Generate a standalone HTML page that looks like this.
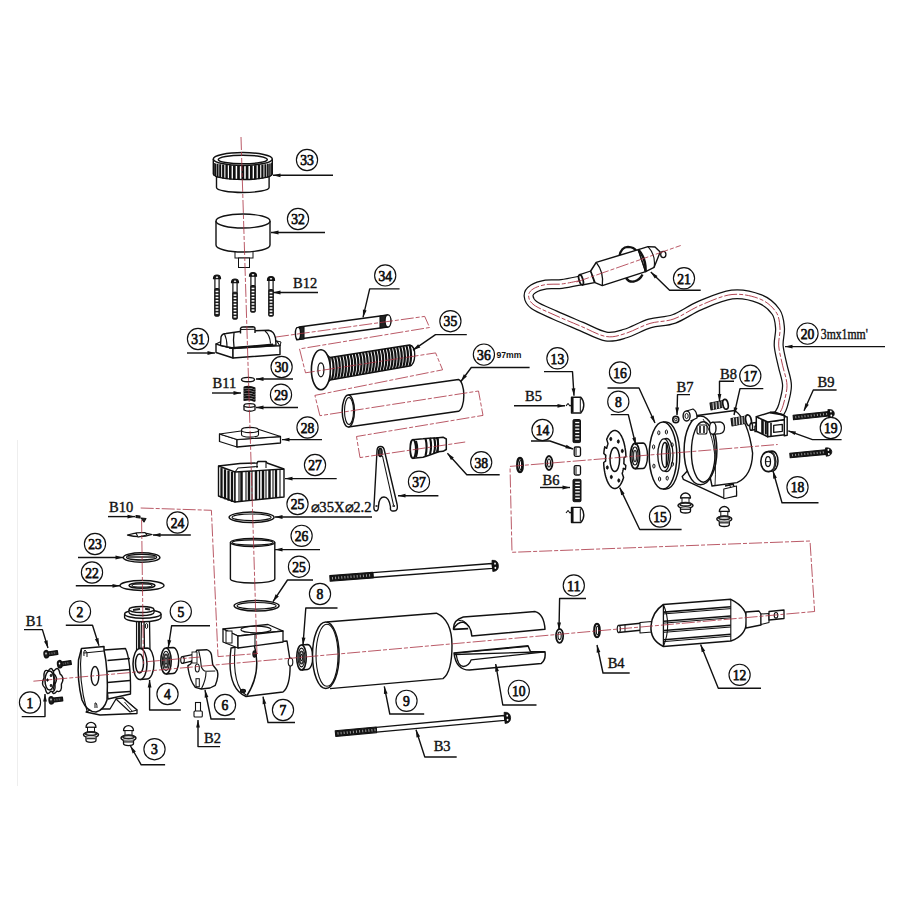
<!DOCTYPE html>
<html><head><meta charset="utf-8"><style>
html,body{margin:0;padding:0;background:#fff;width:902px;height:902px;overflow:hidden}
svg{display:block}
text{font-family:"Liberation Serif",serif;fill:#111}
</style></head><body>
<svg width="902" height="902" viewBox="0 0 902 902">
<rect width="902" height="902" fill="#fff"/>
<line x1="17.5" y1="440" x2="17.5" y2="786" stroke="#eee" stroke-width="1"/>
<path d="M580.5,280.5 C577.4,281.1 567.4,283.3 561.6,284 C555.9,284.7 550.8,283.7 546,284.5 C541.2,285.3 535.9,287.1 533,289 C530.1,290.9 528.4,293.3 528.6,296 C528.8,298.7 529.6,301.8 534,305 C538.4,308.2 547.1,311.6 555,315.2 C562.9,318.8 573,322.9 581.5,326.5 C590,330.1 598.7,335.3 606,336.5 C613.3,337.7 618.1,335.7 625.4,333.5 C632.7,331.3 641.9,325.8 650,323.4 C658.1,321 665.7,321.9 674,318.9 C682.3,315.9 690.3,309.6 700,305.5 C709.7,301.4 722,295.6 732,294.5 C742,293.4 752.7,296.1 760,299 C767.3,301.9 772.7,307.2 776,312 C779.3,316.8 779.5,322.4 780,328 C780.5,333.6 778.2,339.6 778.7,345.9 C779.2,352.2 781.3,359.1 782.7,365.8 C784.1,372.5 787,379.2 787,385.8 C787,392.4 784.3,401 783,405.7 C781.7,410.4 779.7,412.6 779,414" fill="none" stroke="#111" stroke-width="10.1" stroke-linejoin="round" />
<path d="M580.5,280.5 C577.4,281.1 567.4,283.3 561.6,284 C555.9,284.7 550.8,283.7 546,284.5 C541.2,285.3 535.9,287.1 533,289 C530.1,290.9 528.4,293.3 528.6,296 C528.8,298.7 529.6,301.8 534,305 C538.4,308.2 547.1,311.6 555,315.2 C562.9,318.8 573,322.9 581.5,326.5 C590,330.1 598.7,335.3 606,336.5 C613.3,337.7 618.1,335.7 625.4,333.5 C632.7,331.3 641.9,325.8 650,323.4 C658.1,321 665.7,321.9 674,318.9 C682.3,315.9 690.3,309.6 700,305.5 C709.7,301.4 722,295.6 732,294.5 C742,293.4 752.7,296.1 760,299 C767.3,301.9 772.7,307.2 776,312 C779.3,316.8 779.5,322.4 780,328 C780.5,333.6 778.2,339.6 778.7,345.9 C779.2,352.2 781.3,359.1 782.7,365.8 C784.1,372.5 787,379.2 787,385.8 C787,392.4 784.3,401 783,405.7 C781.7,410.4 779.7,412.6 779,414" fill="none" stroke="#fff" stroke-width="7.6" stroke-linejoin="round" />
<path d="M580.5,280.5 C577.4,281.1 567.4,283.3 561.6,284 C555.9,284.7 550.8,283.7 546,284.5 C541.2,285.3 535.9,287.1 533,289 C530.1,290.9 528.4,293.3 528.6,296 C528.8,298.7 529.6,301.8 534,305 C538.4,308.2 547.1,311.6 555,315.2 C562.9,318.8 573,322.9 581.5,326.5 C590,330.1 598.7,335.3 606,336.5 C613.3,337.7 618.1,335.7 625.4,333.5 C632.7,331.3 641.9,325.8 650,323.4 C658.1,321 665.7,321.9 674,318.9 C682.3,315.9 690.3,309.6 700,305.5 C709.7,301.4 722,295.6 732,294.5 C742,293.4 752.7,296.1 760,299 C767.3,301.9 772.7,307.2 776,312 C779.3,316.8 779.5,322.4 780,328 C780.5,333.6 778.2,339.6 778.7,345.9 C779.2,352.2 781.3,359.1 782.7,365.8 C784.1,372.5 787,379.2 787,385.8 C787,392.4 784.3,401 783,405.7 C781.7,410.4 779.7,412.6 779,414" fill="none" stroke="#a83040" stroke-width="0.9" stroke-dasharray="13 2 4 2"/>
<path d="M619.5,256 Q621,247 628,246.8 Q634,247 636.5,251" fill="none" stroke="#111" stroke-width="2.3" stroke-linejoin="round" />
<path d="M626,278 Q629,282.5 634,281.5 Q640,280 642.5,274.5" fill="none" stroke="#111" stroke-width="2.3" stroke-linejoin="round" />
<polygon points="579.8,274.6 590.7,271 594.4,282.6 582.2,285" fill="#fff" stroke="#111" stroke-width="1.3" stroke-linejoin="round" />
<ellipse cx="581" cy="279.8" rx="1.9" ry="5.2" fill="#fff" stroke="#111" stroke-width="1.8" transform="rotate(-16 581 279.8)" />
<polygon points="590.7,271 596.2,262.4 638.3,249.6 645.6,271.6 602.3,285.6 595,282.6" fill="#fff" stroke="#111" stroke-width="1.5" stroke-linejoin="round" />
<path d="M596.2,262.4 Q604,272 602.3,285.6" fill="none" stroke="#111" stroke-width="1.3" stroke-linejoin="round" />
<polygon points="638.3,249.6 648,246.6 655,247 660.2,252 654.1,267.3 645.6,271.6" fill="#fff" stroke="#111" stroke-width="1.4" stroke-linejoin="round" />
<path d="M638.3,249.6 Q646,258 645.6,271.6" fill="none" stroke="#111" stroke-width="2.5" stroke-linejoin="round" />
<path d="M648,246.6 Q656,255 654.1,267.3" fill="none" stroke="#111" stroke-width="1.1" stroke-linejoin="round" />
<ellipse cx="663.3" cy="254.5" rx="2.6" ry="3.1" fill="#fff" stroke="#111" stroke-width="1.3" />
<path d="M216.5,176 L216.5,187.5 A26.3,5 0 0 0 269.1,187.5 L269.1,176" fill="#fff" stroke="#111" stroke-width="1.4" stroke-linejoin="round" />
<path d="M213.3,159 L213.3,174 A29.5,5.5 0 0 0 272.3,174 L272.3,159" fill="#fff" stroke="#111" stroke-width="1.4" stroke-linejoin="round" />
<line x1="213.5" y1="162.4" x2="213.5" y2="175.1" stroke="#111" stroke-width="0.8" />
<line x1="214.3" y1="162.9" x2="214.3" y2="175.9" stroke="#111" stroke-width="1.1" />
<line x1="215.7" y1="163.4" x2="215.7" y2="176.7" stroke="#111" stroke-width="1.4" />
<line x1="217.7" y1="163.8" x2="217.7" y2="177.4" stroke="#111" stroke-width="1.7" />
<line x1="220.2" y1="164.2" x2="220.2" y2="178" stroke="#111" stroke-width="2" />
<line x1="223.2" y1="164.6" x2="223.2" y2="178.6" stroke="#111" stroke-width="2.2" />
<line x1="226.6" y1="164.9" x2="226.6" y2="179.1" stroke="#111" stroke-width="2.4" />
<line x1="230.3" y1="165.2" x2="230.3" y2="179.5" stroke="#111" stroke-width="2.6" />
<line x1="234.3" y1="165.4" x2="234.3" y2="179.8" stroke="#111" stroke-width="2.7" />
<line x1="238.5" y1="165.5" x2="238.5" y2="179.9" stroke="#111" stroke-width="2.7" />
<line x1="242.8" y1="165.5" x2="242.8" y2="180" stroke="#111" stroke-width="2.8" />
<line x1="247.1" y1="165.5" x2="247.1" y2="179.9" stroke="#111" stroke-width="2.7" />
<line x1="251.3" y1="165.4" x2="251.3" y2="179.8" stroke="#111" stroke-width="2.7" />
<line x1="255.3" y1="165.2" x2="255.3" y2="179.5" stroke="#111" stroke-width="2.6" />
<line x1="259" y1="164.9" x2="259" y2="179.1" stroke="#111" stroke-width="2.4" />
<line x1="262.4" y1="164.6" x2="262.4" y2="178.6" stroke="#111" stroke-width="2.2" />
<line x1="265.4" y1="164.2" x2="265.4" y2="178" stroke="#111" stroke-width="2" />
<line x1="267.9" y1="163.8" x2="267.9" y2="177.4" stroke="#111" stroke-width="1.7" />
<line x1="269.9" y1="163.4" x2="269.9" y2="176.7" stroke="#111" stroke-width="1.4" />
<line x1="271.3" y1="162.9" x2="271.3" y2="175.9" stroke="#111" stroke-width="1.1" />
<line x1="272.1" y1="162.4" x2="272.1" y2="175.1" stroke="#111" stroke-width="0.8" />
<ellipse cx="242.8" cy="159" rx="29.5" ry="6.5" fill="#fff" stroke="#111" stroke-width="1.5" />
<ellipse cx="242.8" cy="159.5" rx="24.5" ry="4.3" fill="none" stroke="#111" stroke-width="1.5" />
<rect x="235" y="249" width="18" height="9" fill="#fff" stroke="#111" stroke-width="1"/>
<rect x="238.5" y="258" width="11" height="9.5" fill="#fff" stroke="#111" stroke-width="1"/>
<path d="M216,221 L216,245 A27,7 0 0 0 270,245 L270,221" fill="#fff" stroke="#111" stroke-width="1.4" stroke-linejoin="round" />
<ellipse cx="243" cy="221" rx="27" ry="7" fill="#fff" stroke="#111" stroke-width="1.4" />
<rect x="214.9" y="278" width="4.2" height="38" rx="1" fill="#fff" stroke="#111" stroke-width="1.2"/>
<rect x="214.9" y="288.5" width="4.2" height="27.5" rx="1" fill="#222" stroke="#111" stroke-width="1"/>
<rect x="215.6" y="290.7" width="2.8" height="1.5" fill="#fff"/>
<rect x="215.6" y="293.8" width="2.8" height="1.5" fill="#fff"/>
<rect x="215.6" y="296.9" width="2.8" height="1.5" fill="#fff"/>
<rect x="215.6" y="300" width="2.8" height="1.5" fill="#fff"/>
<rect x="215.6" y="303.1" width="2.8" height="1.5" fill="#fff"/>
<rect x="215.6" y="306.2" width="2.8" height="1.5" fill="#fff"/>
<rect x="215.6" y="309.3" width="2.8" height="1.5" fill="#fff"/>
<rect x="215.6" y="312.4" width="2.8" height="1.5" fill="#fff"/>
<path d="M213.4,278.8 Q213.4,275 217,275 Q220.6,275 220.6,278.8 Z" fill="#111" stroke="#111" stroke-width="1.1" stroke-linejoin="round" />
<ellipse cx="217" cy="277.2" rx="1.2" ry="0.8" fill="#fff" stroke="#fff" stroke-width="0.1" />
<rect x="232.9" y="282" width="4.2" height="37" rx="1" fill="#fff" stroke="#111" stroke-width="1.2"/>
<rect x="232.9" y="292.2" width="4.2" height="26.8" rx="1" fill="#222" stroke="#111" stroke-width="1"/>
<rect x="233.6" y="294.4" width="2.8" height="1.5" fill="#fff"/>
<rect x="233.6" y="297.5" width="2.8" height="1.5" fill="#fff"/>
<rect x="233.6" y="300.6" width="2.8" height="1.5" fill="#fff"/>
<rect x="233.6" y="303.7" width="2.8" height="1.5" fill="#fff"/>
<rect x="233.6" y="306.8" width="2.8" height="1.5" fill="#fff"/>
<rect x="233.6" y="309.9" width="2.8" height="1.5" fill="#fff"/>
<rect x="233.6" y="313" width="2.8" height="1.5" fill="#fff"/>
<rect x="233.6" y="316.1" width="2.8" height="1.5" fill="#fff"/>
<path d="M231.4,282.8 Q231.4,279 235,279 Q238.6,279 238.6,282.8 Z" fill="#111" stroke="#111" stroke-width="1.1" stroke-linejoin="round" />
<ellipse cx="235" cy="281.2" rx="1.2" ry="0.8" fill="#fff" stroke="#fff" stroke-width="0.1" />
<rect x="250.9" y="275.5" width="4.2" height="36.5" rx="1" fill="#fff" stroke="#111" stroke-width="1.2"/>
<rect x="250.9" y="285.5" width="4.2" height="26.5" rx="1" fill="#222" stroke="#111" stroke-width="1"/>
<rect x="251.6" y="287.7" width="2.8" height="1.5" fill="#fff"/>
<rect x="251.6" y="290.8" width="2.8" height="1.5" fill="#fff"/>
<rect x="251.6" y="293.9" width="2.8" height="1.5" fill="#fff"/>
<rect x="251.6" y="297" width="2.8" height="1.5" fill="#fff"/>
<rect x="251.6" y="300.1" width="2.8" height="1.5" fill="#fff"/>
<rect x="251.6" y="303.2" width="2.8" height="1.5" fill="#fff"/>
<rect x="251.6" y="306.3" width="2.8" height="1.5" fill="#fff"/>
<rect x="251.6" y="309.4" width="2.8" height="1.5" fill="#fff"/>
<path d="M249.4,276.3 Q249.4,272.5 253,272.5 Q256.6,272.5 256.6,276.3 Z" fill="#111" stroke="#111" stroke-width="1.1" stroke-linejoin="round" />
<ellipse cx="253" cy="274.7" rx="1.2" ry="0.8" fill="#fff" stroke="#fff" stroke-width="0.1" />
<rect x="268.9" y="279.6" width="4.2" height="36.4" rx="1" fill="#fff" stroke="#111" stroke-width="1.2"/>
<rect x="268.9" y="289.6" width="4.2" height="26.4" rx="1" fill="#222" stroke="#111" stroke-width="1"/>
<rect x="269.6" y="291.8" width="2.8" height="1.5" fill="#fff"/>
<rect x="269.6" y="294.9" width="2.8" height="1.5" fill="#fff"/>
<rect x="269.6" y="298" width="2.8" height="1.5" fill="#fff"/>
<rect x="269.6" y="301.1" width="2.8" height="1.5" fill="#fff"/>
<rect x="269.6" y="304.2" width="2.8" height="1.5" fill="#fff"/>
<rect x="269.6" y="307.3" width="2.8" height="1.5" fill="#fff"/>
<rect x="269.6" y="310.4" width="2.8" height="1.5" fill="#fff"/>
<rect x="269.6" y="313.5" width="2.8" height="1.5" fill="#fff"/>
<path d="M267.4,280.4 Q267.4,276.6 271,276.6 Q274.6,276.6 274.6,280.4 Z" fill="#111" stroke="#111" stroke-width="1.1" stroke-linejoin="round" />
<ellipse cx="271" cy="278.8" rx="1.2" ry="0.8" fill="#fff" stroke="#fff" stroke-width="0.1" />
<polygon points="216,344 233,348.5 233,358 216,352.5" fill="#fff" stroke="#111" stroke-width="1.4" stroke-linejoin="round" />
<polygon points="233,348.5 280,345.5 280,354.5 233,358" fill="#fff" stroke="#111" stroke-width="1.4" stroke-linejoin="round" />
<polygon points="216,344 222,341 274,338 280,345.5 233,348.5" fill="#fff" stroke="#111" stroke-width="1.1" stroke-linejoin="round" />
<path d="M220.5,345.5 L221,337 Q222,333.5 226,333.5 L240,331.5 L255,330.8 L268.5,330.3 Q274,331 275.5,338 L276,345 L233,348 Z" fill="#fff" stroke="#111" stroke-width="1.4" stroke-linejoin="round" />
<path d="M234,333 Q233,340 234,347" fill="none" stroke="#111" stroke-width="1.3" stroke-linejoin="round" />
<path d="M265,331 Q270,335 270.5,343.5" fill="none" stroke="#111" stroke-width="1.1" stroke-linejoin="round" />
<path d="M224.5,334 Q227,339 227,346.5" fill="none" stroke="#111" stroke-width="1.1" stroke-linejoin="round" />
<path d="M229,348 L273,344.3" fill="none" stroke="#111" stroke-width="1.5" stroke-linejoin="round" />
<path d="M240.5,333.5 L240.5,328.5 Q241,327 243,327 L253,326.8 Q255,327 255,328.5 L255,333" fill="#fff" stroke="#111" stroke-width="1.4" stroke-linejoin="round" />
<line x1="240.5" y1="329.5" x2="255" y2="329.2" stroke="#111" stroke-width="1.1" />
<polygon points="277,341 281,342 280,346" fill="#fff" stroke="#111" stroke-width="1" stroke-linejoin="round" />
<ellipse cx="248" cy="379.6" rx="6.5" ry="2.2" fill="#fff" stroke="#111" stroke-width="1.4" />
<path d="M244,387.5 Q249.5,386 255,388.5" fill="none" stroke="#111" stroke-width="2.3" stroke-linejoin="round" />
<path d="M244,390 Q249.5,388.5 255,391" fill="none" stroke="#111" stroke-width="2.3" stroke-linejoin="round" />
<path d="M244,392.5 Q249.5,391 255,393.5" fill="none" stroke="#111" stroke-width="2.3" stroke-linejoin="round" />
<path d="M244,395 Q249.5,393.5 255,396" fill="none" stroke="#111" stroke-width="2.3" stroke-linejoin="round" />
<path d="M244,397.5 Q249.5,396 255,398.5" fill="none" stroke="#111" stroke-width="2.3" stroke-linejoin="round" />
<path d="M244,400 Q249.5,398.5 255,401" fill="none" stroke="#111" stroke-width="2.3" stroke-linejoin="round" />
<line x1="244" y1="387" x2="244" y2="401" stroke="#111" stroke-width="0.9" />
<line x1="255" y1="388" x2="255" y2="401.5" stroke="#111" stroke-width="0.9" />
<path d="M244,405.5 L244,410 Q249.5,412.5 255,410 L255,405.5" fill="#fff" stroke="#111" stroke-width="1.3" stroke-linejoin="round" />
<ellipse cx="249.5" cy="405.5" rx="5.5" ry="1.8" fill="#fff" stroke="#111" stroke-width="1.3" />
<polygon points="219.5,434 237,439.5 237,447 219.5,441.5" fill="#fff" stroke="#111" stroke-width="1.3" stroke-linejoin="round" />
<polygon points="237,439.5 280.5,436.5 280.5,443 237,447" fill="#fff" stroke="#111" stroke-width="1.3" stroke-linejoin="round" />
<polygon points="219.5,434 241,431 259,429.5 280.5,436.5 237,439.5" fill="#fff" stroke="#111" stroke-width="1.1" stroke-linejoin="round" />
<path d="M241.5,430 L241.5,434.5 A8.5,2.6 0 0 0 258.5,434.5 L258.5,430" fill="#fff" stroke="#111" stroke-width="1.1" stroke-linejoin="round" />
<ellipse cx="250" cy="430" rx="8.5" ry="2.6" fill="#fff" stroke="#111" stroke-width="1.1" />
<polygon points="218.5,466 235,472 235,502 218.5,496" fill="#fff" stroke="#111" stroke-width="1.4" stroke-linejoin="round" />
<polygon points="235,472 284,469 284,497 235,502" fill="#fff" stroke="#111" stroke-width="1.4" stroke-linejoin="round" />
<polyline points="218.5,466 240,463.5 257,463 258,461.5 266,461.5 267,463 284,469" fill="none" stroke="#111" stroke-width="1.4" stroke-linejoin="round" />
<polyline points="235,472 238,468 258,466.5" fill="none" stroke="#111" stroke-width="1.1" stroke-linejoin="round" />
<polyline points="257,463 257,468" fill="none" stroke="#111" stroke-width="1.1" stroke-linejoin="round" />
<polyline points="266,462 266,468" fill="none" stroke="#111" stroke-width="1.1" stroke-linejoin="round" />
<line x1="221.5" y1="468.1" x2="221.5" y2="498.1" stroke="#111" stroke-width="2.3" />
<line x1="225" y1="469.3" x2="225" y2="499.3" stroke="#111" stroke-width="2.3" />
<line x1="228.5" y1="470.6" x2="228.5" y2="500.6" stroke="#111" stroke-width="2.3" />
<line x1="232" y1="471.9" x2="232" y2="501.9" stroke="#111" stroke-width="2.3" />
<line x1="239" y1="471.8" x2="239" y2="501.6" stroke="#111" stroke-width="1.1" />
<line x1="241.5" y1="471.6" x2="241.5" y2="501.3" stroke="#111" stroke-width="2.5" />
<line x1="246" y1="471.3" x2="246" y2="500.9" stroke="#111" stroke-width="1.1" />
<line x1="249" y1="471.1" x2="249" y2="500.6" stroke="#111" stroke-width="2.5" />
<line x1="252" y1="471" x2="252" y2="500.3" stroke="#111" stroke-width="1.1" />
<line x1="256" y1="470.7" x2="256" y2="499.9" stroke="#111" stroke-width="2.5" />
<line x1="259.5" y1="470.5" x2="259.5" y2="499.5" stroke="#111" stroke-width="1.4" />
<line x1="263" y1="470.3" x2="263" y2="499.1" stroke="#111" stroke-width="2.5" />
<line x1="266" y1="470.1" x2="266" y2="498.8" stroke="#111" stroke-width="1.1" />
<line x1="269.5" y1="469.9" x2="269.5" y2="498.5" stroke="#111" stroke-width="2.5" />
<line x1="273" y1="469.7" x2="273" y2="498.1" stroke="#111" stroke-width="1.1" />
<line x1="276" y1="469.5" x2="276" y2="497.8" stroke="#111" stroke-width="2.3" />
<line x1="280" y1="469.3" x2="280" y2="497.4" stroke="#111" stroke-width="1.1" />
<path d="M136,515.5 L140,516 L140,518 L136,517.5 Z" fill="#222" stroke="#111" stroke-width="1.1" stroke-linejoin="round" />
<path d="M141,518 L146,518.5 L144,522 Z" fill="#222" stroke="#111" stroke-width="1.1" stroke-linejoin="round" />
<path d="M127.5,535 Q140,531 152,534.5 Q140,538.5 127.5,535 Z" fill="#fff" stroke="#111" stroke-width="1.3" stroke-linejoin="round" />
<path d="M136,533 L145,532.5 L147,535 L138,537 Z" fill="#fff" stroke="#111" stroke-width="1.1" stroke-linejoin="round" />
<ellipse cx="141.6" cy="557.5" rx="18.3" ry="4.8" fill="#fff" stroke="#111" stroke-width="1.5" />
<ellipse cx="141.6" cy="557.2" rx="15" ry="2.8" fill="none" stroke="#111" stroke-width="1.3" />
<line x1="128" y1="557" x2="155" y2="557" stroke="#333" stroke-width="1.6" />
<ellipse cx="142" cy="585.5" rx="22" ry="5" fill="#fff" stroke="#111" stroke-width="1.4" />
<ellipse cx="142" cy="585.5" rx="13" ry="2.8" fill="none" stroke="#111" stroke-width="1.5" />
<ellipse cx="142" cy="585.5" rx="10" ry="1.6" fill="none" stroke="#111" stroke-width="1.1" />
<polygon points="136.5,620 141.5,620 141,652 136.5,652" fill="#fff" stroke="#111" stroke-width="1.1" stroke-linejoin="round" />
<line x1="139" y1="622" x2="139" y2="650" stroke="#222" stroke-width="2.3" />
<polygon points="144,620 149.5,620 150,652 144.5,652" fill="#fff" stroke="#111" stroke-width="1.3" stroke-linejoin="round" />
<ellipse cx="146.5" cy="626" rx="1.2" ry="2.5" fill="none" stroke="#111" stroke-width="1" />
<path d="M140,648.5 L147,648 A7,15.5 0 0 1 147,679 L140,679.5" fill="#fff" stroke="#111" stroke-width="1.4" stroke-linejoin="round" />
<ellipse cx="140" cy="664" rx="7" ry="15.5" fill="#fff" stroke="#111" stroke-width="1.5" />
<ellipse cx="139.5" cy="663.5" rx="4" ry="9.5" fill="none" stroke="#111" stroke-width="1.5" />
<path d="M124.6,614 L124.6,617.5 A18.2,4.2 0 0 0 161,617.5 L161,614" fill="#fff" stroke="#111" stroke-width="1.4" stroke-linejoin="round" />
<ellipse cx="142.8" cy="614" rx="18.2" ry="4.2" fill="#fff" stroke="#111" stroke-width="1.4" />
<path d="M129,609.5 L129,612.5 A12.5,3 0 0 0 154,612.5 L154,609.5" fill="#fff" stroke="#111" stroke-width="1.3" stroke-linejoin="round" />
<ellipse cx="141.5" cy="609.5" rx="12.5" ry="3" fill="#fff" stroke="#111" stroke-width="1.3" />
<path d="M133,610 L140,609" fill="none" stroke="#222" stroke-width="2.1" stroke-linejoin="round" />
<path d="M145,608.8 L150,609.5" fill="none" stroke="#222" stroke-width="2.1" stroke-linejoin="round" />
<path d="M166,648 L173,647.5 A5.7,13 0 0 1 173,673.5 L166,674" fill="#fff" stroke="#111" stroke-width="1.4" stroke-linejoin="round" />
<ellipse cx="166" cy="661" rx="5.2" ry="13" fill="#fff" stroke="#111" stroke-width="1.6" />
<ellipse cx="166" cy="661" rx="3.6" ry="9.8" fill="none" stroke="#111" stroke-width="1.1" />
<ellipse cx="166" cy="661" rx="2.3" ry="6.5" fill="none" stroke="#333" stroke-width="1.8" />
<ellipse cx="166" cy="661" rx="1" ry="3.2" fill="none" stroke="#111" stroke-width="1.1" />
<path d="M182.3,656.7 L194,654.3 L194,660.6 L182.3,663.3 Z" fill="#fff" stroke="#111" stroke-width="1.3" stroke-linejoin="round" />
<ellipse cx="182.5" cy="660" rx="1.8" ry="3.4" fill="#fff" stroke="#111" stroke-width="1.1" />
<path d="M188,665.7 L190.7,664 L196.7,650.3 L206.7,649.7 Q210.7,651 211.5,655 L212.7,664.7 L217.3,670.7 Q219,676 215.3,685.3 L210,688 L201.3,689 L195.3,687.3 Q190,681 188,668 Z" fill="#fff" stroke="#111" stroke-width="1.4" stroke-linejoin="round" />
<path d="M198.7,650.7 Q201,660 201.3,666.7 Q203,671 206,671.3 L215.3,671" fill="none" stroke="#111" stroke-width="1.1" stroke-linejoin="round" />
<path d="M206,672 Q206,680 201.3,689" fill="none" stroke="#111" stroke-width="1.1" stroke-linejoin="round" />
<rect x="196" y="678.7" width="3.3" height="8" fill="#fff" stroke="#111" stroke-width="1"/>
<ellipse cx="197.3" cy="668" rx="2" ry="4" fill="none" stroke="#111" stroke-width="1.1" />
<rect x="192" y="652" width="5" height="11" fill="#fff" stroke="#111" stroke-width="0.9"/>
<rect x="195.5" y="702.5" width="5" height="9" fill="#fff" stroke="#111" stroke-width="1.1"/>
<rect x="194" y="711" width="8.3" height="6" rx="1" fill="#fff" stroke="#111" stroke-width="1.1"/>
<polygon points="47.8,655.9 57.8,654.4 57.2,650.6 47.2,652.2" fill="#222" stroke="#111" stroke-width="1.4" stroke-linejoin="round" />
<line x1="49.6" y1="654.7" x2="49.3" y2="652.8" stroke="#888" stroke-width="0.6" />
<line x1="52.1" y1="654.3" x2="51.8" y2="652.4" stroke="#888" stroke-width="0.6" />
<line x1="54.5" y1="653.9" x2="54.2" y2="652" stroke="#888" stroke-width="0.6" />
<ellipse cx="46.3" cy="654.2" rx="2.2" ry="3.6" fill="#222" stroke="#111" stroke-width="1.5" transform="rotate(-8.7 46.3 654.2)" />
<ellipse cx="46" cy="653.5" rx="0.7" ry="1" fill="#fff" stroke="#fff" stroke-width="0.1" />
<polygon points="61.3,665.9 71.3,664.4 70.7,660.6 60.7,662.2" fill="#222" stroke="#111" stroke-width="1.4" stroke-linejoin="round" />
<line x1="63.1" y1="664.7" x2="62.8" y2="662.8" stroke="#888" stroke-width="0.6" />
<line x1="65.6" y1="664.3" x2="65.3" y2="662.4" stroke="#888" stroke-width="0.6" />
<line x1="68" y1="663.9" x2="67.7" y2="662" stroke="#888" stroke-width="0.6" />
<ellipse cx="59.8" cy="664.2" rx="2.2" ry="3.6" fill="#222" stroke="#111" stroke-width="1.5" transform="rotate(-8.7 59.8 664.2)" />
<ellipse cx="59.5" cy="663.5" rx="0.7" ry="1" fill="#fff" stroke="#fff" stroke-width="0.1" />
<polygon points="52.7,702 62.7,700.9 62.3,697.1 52.3,698.3" fill="#222" stroke="#111" stroke-width="1.4" stroke-linejoin="round" />
<line x1="54.6" y1="700.9" x2="54.4" y2="699" stroke="#888" stroke-width="0.6" />
<line x1="57.1" y1="700.6" x2="56.8" y2="698.7" stroke="#888" stroke-width="0.6" />
<line x1="59.5" y1="700.3" x2="59.3" y2="698.4" stroke="#888" stroke-width="0.6" />
<ellipse cx="51.3" cy="700.3" rx="2.2" ry="3.6" fill="#222" stroke="#111" stroke-width="1.5" transform="rotate(-6.6 51.3 700.3)" />
<ellipse cx="51" cy="699.5" rx="0.7" ry="1" fill="#fff" stroke="#fff" stroke-width="0.1" />
<path d="M61.4,684.1 Q62.2,693.3 56.9,691.2 Q52.6,697 51,688.1 Q45.8,684.7 49.6,677.9 Q48.8,668.7 54.1,670.8 Q58.4,665 60,673.9 Q65.2,677.3 61.4,684.1 Z" fill="#fff" stroke="#111" stroke-width="1.4" stroke-linejoin="round" />
<path d="M55,684.1 Q55.8,693.3 50.8,691.2 Q46.8,697 45.2,688.1 Q40.5,684.7 44,677.9 Q43.2,668.7 48.2,670.8 Q52.2,665 53.8,673.9 Q58.5,677.3 55,684.1 Z" fill="#fff" stroke="#111" stroke-width="1.4" stroke-linejoin="round" />
<ellipse cx="49.5" cy="680.5" rx="4.5" ry="9.5" fill="#fff" stroke="#111" stroke-width="1.5" />
<path d="M53,672 Q56.5,681 53,690" fill="none" stroke="#111" stroke-width="1.1" stroke-linejoin="round" />
<ellipse cx="47.5" cy="680" rx="0.8" ry="1.2" fill="#111" stroke="#111" stroke-width="0.9" />
<ellipse cx="51" cy="675.5" rx="0.8" ry="1.2" fill="#111" stroke="#111" stroke-width="0.9" />
<ellipse cx="51" cy="685.5" rx="0.8" ry="1.2" fill="#111" stroke="#111" stroke-width="0.9" />
<polygon points="86,712 100,715 137,713.5 137,710 123,698 116,699 110,709 92,709" fill="#fff" stroke="#111" stroke-width="1.3" stroke-linejoin="round" />
<polygon points="116,699 123,698 137,710 130,712" fill="#fff" stroke="#111" stroke-width="1.1" stroke-linejoin="round" />
<line x1="124.5" y1="702" x2="132" y2="711" stroke="#111" stroke-width="0.9" />
<path d="M104,650 L125.5,648.5 Q131,660 130.5,694 L108,699 Z" fill="#fff" stroke="#111" stroke-width="1.4" stroke-linejoin="round" />
<line x1="107.5" y1="660.5" x2="130" y2="658.5" stroke="#111" stroke-width="1.4" />
<line x1="107.5" y1="671.5" x2="130" y2="669.5" stroke="#111" stroke-width="1.4" />
<line x1="107.5" y1="682.5" x2="130" y2="680.5" stroke="#111" stroke-width="1.4" />
<line x1="107.5" y1="693" x2="130" y2="691.5" stroke="#111" stroke-width="1.4" />
<path d="M81.5,648.5 L104,646.5 L104,650 Q108.5,670 107,700 Q104,710 96,712 Q87,712 82,700 Q77,680 78.5,660 Z" fill="#fff" stroke="#111" stroke-width="1.5" stroke-linejoin="round" />
<path d="M81.5,648.5 Q78,680 87,711" fill="none" stroke="#111" stroke-width="1.1" stroke-linejoin="round" />
<path d="M84,653 L104,651" fill="none" stroke="#111" stroke-width="1.1" stroke-linejoin="round" />
<path d="M84,656 Q83,651 85,650 Q88,652 87,657" fill="none" stroke="#111" stroke-width="1" stroke-linejoin="round" />
<ellipse cx="95" cy="676" rx="3.8" ry="9.5" fill="none" stroke="#111" stroke-width="1.4" />
<path d="M95,708 L95,703 Q97,702 97,708" fill="none" stroke="#111" stroke-width="1" stroke-linejoin="round" />
<path d="M86,727.3 A5,5 0 0 1 96,727.3 Z" fill="#fff" stroke="#111" stroke-width="1.3" stroke-linejoin="round" />
<rect x="87.5" y="727.3" width="7" height="5" fill="#fff" stroke="#111" stroke-width="1"/>
<ellipse cx="91" cy="734.8" rx="7.5" ry="3" fill="#fff" stroke="#111" stroke-width="1.5" />
<ellipse cx="91" cy="733.8" rx="5.5" ry="1.6" fill="none" stroke="#222" stroke-width="1.7" />
<path d="M86,737.3 L86,740.3 A5,2 0 0 0 96,740.3 L96,737.3" fill="#fff" stroke="#111" stroke-width="1.3" stroke-linejoin="round" />
<line x1="86.5" y1="738.6" x2="95.5" y2="738.6" stroke="#333" stroke-width="1.4" />
<path d="M123.5,730.6 A5,5 0 0 1 133.5,730.6 Z" fill="#fff" stroke="#111" stroke-width="1.3" stroke-linejoin="round" />
<rect x="125" y="730.6" width="7" height="5" fill="#fff" stroke="#111" stroke-width="1"/>
<ellipse cx="128.5" cy="738.1" rx="7.5" ry="3" fill="#fff" stroke="#111" stroke-width="1.5" />
<ellipse cx="128.5" cy="737.1" rx="5.5" ry="1.6" fill="none" stroke="#222" stroke-width="1.7" />
<path d="M123.5,740.6 L123.5,743.6 A5,2 0 0 0 133.5,743.6 L133.5,740.6" fill="#fff" stroke="#111" stroke-width="1.3" stroke-linejoin="round" />
<line x1="124" y1="741.9" x2="133" y2="741.9" stroke="#333" stroke-width="1.4" />
<ellipse cx="251.6" cy="517.3" rx="22.5" ry="5.2" fill="none" stroke="#111" stroke-width="1.5" />
<ellipse cx="251.6" cy="517.3" rx="19.5" ry="3.3" fill="none" stroke="#111" stroke-width="1.1" />
<ellipse cx="256.6" cy="605.8" rx="22.5" ry="5.2" fill="none" stroke="#111" stroke-width="1.5" />
<ellipse cx="256.6" cy="605.8" rx="19.5" ry="3.3" fill="none" stroke="#111" stroke-width="1.1" />
<path d="M230.4,542.5 L230.4,579 A22.2,4 0 0 0 274.8,579 L274.8,542.5" fill="#fff" stroke="#111" stroke-width="1.4" stroke-linejoin="round" />
<ellipse cx="252.6" cy="542.5" rx="22.2" ry="4" fill="#fff" stroke="#111" stroke-width="1.4" />
<ellipse cx="252.6" cy="542.5" rx="20.5" ry="2.6" fill="none" stroke="#111" stroke-width="1.1" />
<path d="M231,648 Q226,688 246,696.5 L283,692 Q291,686 290,660 L287,641 L254,644 Z" fill="#fff" stroke="#111" stroke-width="1.4" stroke-linejoin="round" />
<path d="M235,648 Q232,686 246.5,695.5" fill="none" stroke="#111" stroke-width="1.1" stroke-linejoin="round" />
<path d="M254,644 Q262,672 247,695.5" fill="none" stroke="#111" stroke-width="1.5" stroke-linejoin="round" />
<polygon points="223,629 268,624.5 283,631 238,636" fill="#fff" stroke="#111" stroke-width="1.3" stroke-linejoin="round" />
<polygon points="223,629 238,636 238,648 223,642" fill="#fff" stroke="#111" stroke-width="1.3" stroke-linejoin="round" />
<polygon points="238,636 283,631 283,642 238,648" fill="#fff" stroke="#111" stroke-width="1.3" stroke-linejoin="round" />
<ellipse cx="256" cy="629.5" rx="15" ry="3.3" fill="none" stroke="#111" stroke-width="1.1" />
<rect x="226" y="631" width="6" height="12" fill="#fff" stroke="#111" stroke-width="1"/>
<line x1="255" y1="634" x2="255" y2="646" stroke="#111" stroke-width="1.1" />
<ellipse cx="290.5" cy="662" rx="2.3" ry="4" fill="#fff" stroke="#111" stroke-width="1.1" />
<ellipse cx="254.5" cy="654" rx="1.6" ry="3.2" fill="#222" stroke="#111" stroke-width="1.1" />
<ellipse cx="243" cy="691" rx="2.5" ry="1.6" fill="#222" stroke="#111" stroke-width="1.1" />
<path d="M301.5,645 L307.5,644.5 A5.3,12.5 0 0 1 307.5,669.5 L301.5,670" fill="#fff" stroke="#111" stroke-width="1.4" stroke-linejoin="round" />
<ellipse cx="301.5" cy="657.5" rx="4.8" ry="12.5" fill="#fff" stroke="#111" stroke-width="1.6" />
<ellipse cx="301.5" cy="657.5" rx="3.4" ry="9.4" fill="none" stroke="#111" stroke-width="1.1" />
<ellipse cx="301.5" cy="657.5" rx="2.2" ry="6.2" fill="none" stroke="#333" stroke-width="1.8" />
<ellipse cx="301.5" cy="657.5" rx="1" ry="3.1" fill="none" stroke="#111" stroke-width="1.1" />
<polygon points="373.1,577.5 492.6,568.3 492.2,563.5 372.7,572.7" fill="#fff" stroke="#111" stroke-width="1.3" stroke-linejoin="round" />
<polygon points="330.2,581.2 373.1,577.9 372.7,572.3 329.8,575.6" fill="#151515" stroke="#111" stroke-width="1.1" stroke-linejoin="round" />
<line x1="332.6" y1="579.5" x2="332.4" y2="577" stroke="#bbb" stroke-width="0.8" />
<line x1="335.7" y1="579.2" x2="335.5" y2="576.7" stroke="#bbb" stroke-width="0.8" />
<line x1="338.8" y1="579" x2="338.6" y2="576.5" stroke="#bbb" stroke-width="0.8" />
<line x1="341.9" y1="578.7" x2="341.7" y2="576.2" stroke="#bbb" stroke-width="0.8" />
<line x1="345" y1="578.5" x2="344.8" y2="576" stroke="#bbb" stroke-width="0.8" />
<line x1="348" y1="578.3" x2="347.8" y2="575.8" stroke="#bbb" stroke-width="0.8" />
<line x1="351.1" y1="578" x2="350.9" y2="575.5" stroke="#bbb" stroke-width="0.8" />
<line x1="354.2" y1="577.8" x2="354" y2="575.3" stroke="#bbb" stroke-width="0.8" />
<line x1="357.3" y1="577.6" x2="357.1" y2="575" stroke="#bbb" stroke-width="0.8" />
<line x1="360.4" y1="577.3" x2="360.2" y2="574.8" stroke="#bbb" stroke-width="0.8" />
<line x1="363.5" y1="577.1" x2="363.3" y2="574.6" stroke="#bbb" stroke-width="0.8" />
<line x1="366.6" y1="576.8" x2="366.4" y2="574.3" stroke="#bbb" stroke-width="0.8" />
<line x1="369.7" y1="576.6" x2="369.5" y2="574.1" stroke="#bbb" stroke-width="0.8" />
<g transform="translate(492.4,565.9) rotate(-4.4)"><path d="M0,-5.6 Q6,-5.6 6,0 Q6,5.6 0,5.6 Z" fill="#111" stroke="#111" stroke-width="0.8"/><ellipse cx="2.8" cy="-2" rx="0.9" ry="1.1" fill="#fff"/><ellipse cx="2.8" cy="2.2" rx="0.9" ry="1.1" fill="#fff"/></g>
<polygon points="376.5,732.2 504.8,720.3 504.4,715.5 376.1,727.4" fill="#fff" stroke="#111" stroke-width="1.3" stroke-linejoin="round" />
<polygon points="335.8,736.4 376.6,732.6 376.1,727 335.2,730.8" fill="#151515" stroke="#111" stroke-width="1.1" stroke-linejoin="round" />
<line x1="338.1" y1="734.6" x2="337.9" y2="732.1" stroke="#bbb" stroke-width="0.8" />
<line x1="341.2" y1="734.3" x2="341" y2="731.8" stroke="#bbb" stroke-width="0.8" />
<line x1="344.3" y1="734" x2="344" y2="731.5" stroke="#bbb" stroke-width="0.8" />
<line x1="347.4" y1="733.8" x2="347.1" y2="731.3" stroke="#bbb" stroke-width="0.8" />
<line x1="350.5" y1="733.5" x2="350.2" y2="731" stroke="#bbb" stroke-width="0.8" />
<line x1="353.5" y1="733.2" x2="353.3" y2="730.7" stroke="#bbb" stroke-width="0.8" />
<line x1="356.6" y1="732.9" x2="356.4" y2="730.4" stroke="#bbb" stroke-width="0.8" />
<line x1="359.7" y1="732.6" x2="359.5" y2="730.1" stroke="#bbb" stroke-width="0.8" />
<line x1="362.8" y1="732.3" x2="362.6" y2="729.8" stroke="#bbb" stroke-width="0.8" />
<line x1="365.9" y1="732" x2="365.7" y2="729.5" stroke="#bbb" stroke-width="0.8" />
<line x1="369" y1="731.8" x2="368.7" y2="729.2" stroke="#bbb" stroke-width="0.8" />
<line x1="372.1" y1="731.5" x2="371.8" y2="729" stroke="#bbb" stroke-width="0.8" />
<line x1="375.1" y1="731.2" x2="374.9" y2="728.7" stroke="#bbb" stroke-width="0.8" />
<g transform="translate(504.6,717.9) rotate(-5.3)"><path d="M0,-5.6 Q6,-5.6 6,0 Q6,5.6 0,5.6 Z" fill="#111" stroke="#111" stroke-width="0.8"/><ellipse cx="2.8" cy="-2" rx="0.9" ry="1.1" fill="#fff"/><ellipse cx="2.8" cy="2.2" rx="0.9" ry="1.1" fill="#fff"/></g>
<path d="M326.6,622 L436.4,613.2 Q452,620 452,645.5 Q452,672 443,678.6 L330,688.6" fill="#fff" stroke="#111" stroke-width="1.4" stroke-linejoin="round" />
<ellipse cx="325.8" cy="655.3" rx="13.3" ry="33.3" fill="#fff" stroke="#111" stroke-width="1.5" />
<ellipse cx="327" cy="655.3" rx="11" ry="31" fill="none" stroke="#111" stroke-width="1.1" />
<path d="M453.5,629.3 Q453,620 463.3,617 L535.2,611.6 Q544,614 545,629.3 L471.8,636 Q471,625 463.3,622 Q457,622 453.5,629.3 Z" fill="#fff" stroke="#111" stroke-width="1.5" stroke-linejoin="round" />
<line x1="453.5" y1="629.3" x2="468.2" y2="628.7" stroke="#111" stroke-width="1.8" />
<path d="M458.4,620.5 Q465,619 469.5,627.5" fill="none" stroke="#111" stroke-width="1" stroke-linejoin="round" />
<path d="M454,653 L528,645.7 L530.4,651.5 L545,651.8 Q546,660 541.3,663.4 L469.4,670.1 Q456,670 454,653 Z" fill="#fff" stroke="#111" stroke-width="1.5" stroke-linejoin="round" />
<path d="M456,653.7 Q458,666.5 463.3,666.5 Q469,666 471.2,659.8 L545,651.8" fill="none" stroke="#111" stroke-width="1.3" stroke-linejoin="round" />
<line x1="454" y1="653.2" x2="528" y2="646.5" stroke="#111" stroke-width="1.1" />
<line x1="454" y1="654.5" x2="545" y2="651.8" stroke="#111" stroke-width="1.4" />
<ellipse cx="559.6" cy="635.8" rx="3.6" ry="7" fill="#fff" stroke="#111" stroke-width="1.7" />
<ellipse cx="559.6" cy="635.8" rx="1.6" ry="3.8" fill="none" stroke="#111" stroke-width="1.1" />
<ellipse cx="597" cy="630.5" rx="2.8" ry="6.8" fill="#fff" stroke="#111" stroke-width="2.1" />
<ellipse cx="597.5" cy="630.5" rx="1.2" ry="4.2" fill="none" stroke="#111" stroke-width="1.1" />
<polygon points="618.3,625.5 643,623 643,630 618.3,632.5" fill="#fff" stroke="#111" stroke-width="1.3" stroke-linejoin="round" />
<ellipse cx="618.8" cy="629" rx="1.6" ry="3.5" fill="#fff" stroke="#111" stroke-width="1.1" />
<line x1="625" y1="624.8" x2="625" y2="631.8" stroke="#111" stroke-width="1" />
<polygon points="640,622.5 652,621.5 652,632 640,633" fill="#fff" stroke="#111" stroke-width="1.1" stroke-linejoin="round" />
<path d="M663.4,604.5 L730.8,599.3 Q748,608 746.7,621 Q746,636 730.8,641 L663.4,646.5 Q650,640 651,626 Q652,612 663.4,604.5 Z" fill="#fff" stroke="#111" stroke-width="1.5" stroke-linejoin="round" />
<line x1="664" y1="612.1" x2="730.8" y2="606.8" stroke="#111" stroke-width="1.6" />
<line x1="664" y1="613.9" x2="730.8" y2="608.6" stroke="#111" stroke-width="1" />
<line x1="664" y1="621.3" x2="730.8" y2="616" stroke="#111" stroke-width="1.6" />
<line x1="664" y1="623.1" x2="730.8" y2="617.8" stroke="#111" stroke-width="1" />
<line x1="664" y1="630.5" x2="730.8" y2="625.2" stroke="#111" stroke-width="1.6" />
<line x1="664" y1="632.3" x2="730.8" y2="627" stroke="#111" stroke-width="1" />
<line x1="664" y1="639.8" x2="730.8" y2="634.3" stroke="#111" stroke-width="1.6" />
<line x1="664" y1="641.6" x2="730.8" y2="636.1" stroke="#111" stroke-width="1" />
<line x1="663.4" y1="604.5" x2="663.4" y2="646.5" stroke="#111" stroke-width="1.3" />
<path d="M663.4,604.5 Q672,625 663.4,646.5" fill="none" stroke="#111" stroke-width="1.1" stroke-linejoin="round" />
<line x1="730.8" y1="599.3" x2="730.8" y2="641" stroke="#111" stroke-width="1.1" />
<polygon points="746,612 759,611 761,614 761,625 746,628" fill="#fff" stroke="#111" stroke-width="1.3" stroke-linejoin="round" />
<polygon points="761,614 769,613.5 769,622.5 761,624.5" fill="#fff" stroke="#111" stroke-width="1.1" stroke-linejoin="round" />
<polygon points="769,611.5 784,610 784,618.5 769,620" fill="#fff" stroke="#111" stroke-width="1.3" stroke-linejoin="round" />
<ellipse cx="776" cy="615.3" rx="1.8" ry="2.8" fill="#fff" stroke="#111" stroke-width="1.1" />
<path d="M299,327 L387.7,315 L387.7,327 L299,339 Z" fill="#fff" stroke="#111" stroke-width="1.4" stroke-linejoin="round" />
<polygon points="296.5,328 304,327 304,339 296.5,340" fill="#222" stroke="#111" stroke-width="1.1" stroke-linejoin="round" />
<polygon points="380,316 387.7,315 387.7,327 380,328" fill="#222" stroke="#111" stroke-width="1.1" stroke-linejoin="round" />
<ellipse cx="298" cy="333.5" rx="2.6" ry="6.1" fill="#fff" stroke="#111" stroke-width="1.4" />
<ellipse cx="388" cy="321" rx="3" ry="6.1" fill="#fff" stroke="#111" stroke-width="1.4" />
<path d="M330,357.5 L409.5,345 Q415,346 414.7,355.5 Q414.5,365 409.5,366 L330,380" fill="#fff" stroke="#111" stroke-width="1.4" stroke-linejoin="round" />
<path d="M332,357.2 Q335.2,368.4 332,379.6" fill="none" stroke="#111" stroke-width="2.2" stroke-linejoin="round" />
<path d="M335.1,356.7 Q338.3,367.9 335.1,379.1" fill="none" stroke="#111" stroke-width="2.2" stroke-linejoin="round" />
<path d="M338.2,356.2 Q341.4,367.4 338.2,378.6" fill="none" stroke="#111" stroke-width="2.2" stroke-linejoin="round" />
<path d="M341.3,355.7 Q344.5,366.9 341.3,378" fill="none" stroke="#111" stroke-width="2.2" stroke-linejoin="round" />
<path d="M344.4,355.2 Q347.6,366.4 344.4,377.5" fill="none" stroke="#111" stroke-width="2.2" stroke-linejoin="round" />
<path d="M347.5,354.8 Q350.7,365.8 347.5,376.9" fill="none" stroke="#111" stroke-width="2.2" stroke-linejoin="round" />
<path d="M350.6,354.3 Q353.8,365.3 350.6,376.4" fill="none" stroke="#111" stroke-width="2.2" stroke-linejoin="round" />
<path d="M353.7,353.8 Q356.9,364.8 353.7,375.8" fill="none" stroke="#111" stroke-width="2.2" stroke-linejoin="round" />
<path d="M356.8,353.3 Q360,364.3 356.8,375.3" fill="none" stroke="#111" stroke-width="2.2" stroke-linejoin="round" />
<path d="M359.9,352.8 Q363.1,363.8 359.9,374.7" fill="none" stroke="#111" stroke-width="2.2" stroke-linejoin="round" />
<path d="M363,352.3 Q366.2,363.3 363,374.2" fill="none" stroke="#111" stroke-width="2.2" stroke-linejoin="round" />
<path d="M366.1,351.8 Q369.3,362.7 366.1,373.6" fill="none" stroke="#111" stroke-width="2.2" stroke-linejoin="round" />
<path d="M369.2,351.3 Q372.4,362.2 369.2,373.1" fill="none" stroke="#111" stroke-width="2.2" stroke-linejoin="round" />
<path d="M372.3,350.9 Q375.5,361.7 372.3,372.6" fill="none" stroke="#111" stroke-width="2.2" stroke-linejoin="round" />
<path d="M375.4,350.4 Q378.6,361.2 375.4,372" fill="none" stroke="#111" stroke-width="2.2" stroke-linejoin="round" />
<path d="M378.5,349.9 Q381.7,360.7 378.5,371.5" fill="none" stroke="#111" stroke-width="2.2" stroke-linejoin="round" />
<path d="M381.6,349.4 Q384.8,360.2 381.6,370.9" fill="none" stroke="#111" stroke-width="2.2" stroke-linejoin="round" />
<path d="M384.7,348.9 Q387.9,359.6 384.7,370.4" fill="none" stroke="#111" stroke-width="2.2" stroke-linejoin="round" />
<path d="M387.8,348.4 Q391,359.1 387.8,369.8" fill="none" stroke="#111" stroke-width="2.2" stroke-linejoin="round" />
<path d="M390.9,347.9 Q394.1,358.6 390.9,369.3" fill="none" stroke="#111" stroke-width="2.2" stroke-linejoin="round" />
<path d="M394,347.5 Q397.2,358.1 394,368.7" fill="none" stroke="#111" stroke-width="2.2" stroke-linejoin="round" />
<path d="M397.1,347 Q400.3,357.6 397.1,368.2" fill="none" stroke="#111" stroke-width="2.2" stroke-linejoin="round" />
<path d="M400.2,346.5 Q403.4,357.1 400.2,367.6" fill="none" stroke="#111" stroke-width="2.2" stroke-linejoin="round" />
<path d="M403.3,346 Q406.5,356.5 403.3,367.1" fill="none" stroke="#111" stroke-width="2.2" stroke-linejoin="round" />
<path d="M406.4,345.5 Q409.6,356 406.4,366.6" fill="none" stroke="#111" stroke-width="2.2" stroke-linejoin="round" />
<path d="M409.5,345 Q412.7,355.5 409.5,366" fill="none" stroke="#111" stroke-width="2.2" stroke-linejoin="round" />
<path d="M321,350 L330,357.5 L330,380 L321,389.5" fill="#fff" stroke="#111" stroke-width="1.4" stroke-linejoin="round" />
<ellipse cx="320.9" cy="369.8" rx="9.5" ry="20" fill="#fff" stroke="#111" stroke-width="1.6" />
<ellipse cx="320.9" cy="369.8" rx="3" ry="7" fill="none" stroke="#111" stroke-width="1.3" />
<path d="M348.3,395 L458.5,379.5 A6,16 0 0 1 458.5,411.3 L348.3,427" fill="#fff" stroke="#111" stroke-width="1.4" stroke-linejoin="round" />
<ellipse cx="348.3" cy="411" rx="6.1" ry="16" fill="#fff" stroke="#111" stroke-width="1.5" />
<ellipse cx="349" cy="411" rx="4.5" ry="13.5" fill="none" stroke="#111" stroke-width="1.1" />
<polygon points="436,438 443,437.2 446.3,439 446.3,449.5 443,451.3 436,452" fill="#fff" stroke="#111" stroke-width="1.5" stroke-linejoin="round" />
<path d="M412.6,439.7 L423,438.8 Q438,437 438,439 L438,452 Q430,455 423,457.3 L413,458.3" fill="#fff" stroke="#111" stroke-width="1.5" stroke-linejoin="round" />
<path d="M425.5,438.3 Q427.7,447.2 425.5,456.1" fill="none" stroke="#111" stroke-width="2.1" stroke-linejoin="round" />
<path d="M430,437.9 Q432.2,445.9 430,454.6" fill="none" stroke="#111" stroke-width="2.1" stroke-linejoin="round" />
<path d="M434,437.6 Q436.2,444.7 434,453.1" fill="none" stroke="#111" stroke-width="2.1" stroke-linejoin="round" />
<path d="M437,437.4 Q439.2,443.8 437,452.1" fill="none" stroke="#111" stroke-width="2.1" stroke-linejoin="round" />
<ellipse cx="413" cy="449" rx="2.8" ry="9.3" fill="#fff" stroke="#111" stroke-width="1.8" />
<path d="M416,441 Q418.5,449 416,457" fill="none" stroke="#111" stroke-width="2.1" stroke-linejoin="round" />
<path d="M377,451 Q377,446.5 380.5,446.5 Q384,446.5 384.5,451 L397,504 Q398.5,511 394,511 L392.5,511 Q390,511 390.5,507 Q389,497 384,497 Q379,497 378.5,506 Q378.5,511 376,511 Q373.5,511 374,506 Z" fill="#fff" stroke="#111" stroke-width="1.4" stroke-linejoin="round" />
<ellipse cx="380.3" cy="452.5" rx="1.8" ry="4" fill="#444" stroke="#111" stroke-width="1.4" />
<path d="M382.5,456 L393.5,505" fill="none" stroke="#111" stroke-width="1.1" stroke-linejoin="round" />
<path d="M375.5,506 L377.5,506" fill="none" stroke="#111" stroke-width="1.6" stroke-linejoin="round" />
<path d="M392.5,506 L395,506" fill="none" stroke="#111" stroke-width="1.6" stroke-linejoin="round" />
<path d="M571.5,397.2 L580.8,397.2 Q583.8,400.4 583.8,405.1 Q583.8,409.8 580.8,413 L571.5,413 Z" fill="#fff" stroke="#111" stroke-width="1.4" stroke-linejoin="round" />
<line x1="572.3" y1="397.7" x2="572.3" y2="412.5" stroke="#111" stroke-width="2.5" />
<line x1="580.3" y1="398.2" x2="580.3" y2="412" stroke="#111" stroke-width="1" />
<path d="M566,405.8 L568,403.5 L570,406 L571.5,405" fill="none" stroke="#111" stroke-width="1.1" stroke-linejoin="round" />
<rect x="573" y="419.5" width="7.5" height="23.1" rx="1.2" fill="#1a1a1a" stroke="#111" stroke-width="1"/>
<rect x="575.2" y="421.9" width="4.1" height="1.3" fill="#fff"/>
<rect x="575.2" y="425.2" width="4.1" height="1.3" fill="#fff"/>
<rect x="575.2" y="428.5" width="4.1" height="1.3" fill="#fff"/>
<rect x="575.2" y="431.8" width="4.1" height="1.3" fill="#fff"/>
<rect x="575.2" y="435.1" width="4.1" height="1.3" fill="#fff"/>
<rect x="575.2" y="438.4" width="4.1" height="1.3" fill="#fff"/>
<rect x="574.2" y="447" width="6.3" height="9.3" rx="1.5" fill="#fff" stroke="#111" stroke-width="1.3"/>
<line x1="576" y1="448" x2="576" y2="455.5" stroke="#111" stroke-width="1" />
<rect x="574.2" y="465.6" width="6.3" height="9.4" rx="1.5" fill="#fff" stroke="#111" stroke-width="1.3"/>
<line x1="576" y1="466.5" x2="576" y2="474" stroke="#111" stroke-width="1" />
<rect x="573" y="479.3" width="8" height="22.4" rx="1.2" fill="#1a1a1a" stroke="#111" stroke-width="1"/>
<rect x="575.2" y="481.6" width="4.6" height="1.3" fill="#fff"/>
<rect x="575.2" y="484.8" width="4.6" height="1.3" fill="#fff"/>
<rect x="575.2" y="488" width="4.6" height="1.3" fill="#fff"/>
<rect x="575.2" y="491.2" width="4.6" height="1.3" fill="#fff"/>
<rect x="575.2" y="494.4" width="4.6" height="1.3" fill="#fff"/>
<rect x="575.2" y="497.6" width="4.6" height="1.3" fill="#fff"/>
<path d="M571.5,507.4 L580.8,507.4 Q583.8,510.4 583.8,515 Q583.8,519.5 580.8,522.5 L571.5,522.5 Z" fill="#fff" stroke="#111" stroke-width="1.4" stroke-linejoin="round" />
<line x1="572.3" y1="507.9" x2="572.3" y2="522" stroke="#111" stroke-width="2.5" />
<line x1="580.3" y1="508.4" x2="580.3" y2="521.5" stroke="#111" stroke-width="1" />
<path d="M566,513 L568,510.5 L570,513 L571.5,512" fill="none" stroke="#111" stroke-width="1.1" stroke-linejoin="round" />
<ellipse cx="520" cy="465" rx="2.8" ry="7" fill="#fff" stroke="#111" stroke-width="2.3" />
<ellipse cx="520.5" cy="465" rx="1.1" ry="4.5" fill="none" stroke="#111" stroke-width="1.1" />
<ellipse cx="549" cy="463" rx="3.5" ry="7" fill="#fff" stroke="#111" stroke-width="1.8" />
<ellipse cx="549" cy="463" rx="1.5" ry="4" fill="none" stroke="#111" stroke-width="1.1" />
<polygon points="624,459.5 624,460.3 624,461.2 623.9,462 623.9,462.8 623.8,463.6 625.8,465.5 625.7,466.5 625.6,467.5 625.5,468.5 625.3,469.4 623.3,468.4 623.2,469.2 623.1,469.9 622.9,470.7 622.8,471.4 622.6,472.1 622.4,472.8 622.2,473.5 623.6,477.4 623.4,478.1 623.1,478.9 622.9,479.6 622.6,480.4 622.3,481.1 622,481.7 621.7,482.4 621.4,483 621.1,483.5 620.7,484.1 620.4,484.6 620.1,485.1 619.7,485.6 619.4,486 619,486.4 618.6,486.8 618.3,487.1 617.9,487.4 617.5,487.6 617.1,487.9 616.7,488.1 616.4,488.2 616,488.3 615.6,488.4 615.2,488.5 614.8,488.5 614.4,488.5 614,488.4 613.6,488.3 613.2,488.2 612.9,488.1 612.5,487.9 612.1,487.6 611.7,487.4 611.3,487.1 611,486.8 610.6,486.4 610.2,486 609.9,485.6 609.5,485.1 609.2,484.6 608.9,484.1 608.5,483.5 608.2,483 607.9,482.4 607.6,481.7 607.3,481.1 607,480.4 606.7,479.6 606.5,478.9 606.2,478.1 606,477.4 605.7,476.5 605.5,475.7 605.3,474.9 605.1,474 604.9,473.1 604.7,472.2 604.6,471.3 604.4,470.4 604.3,469.4 604.1,468.5 604,467.5 603.9,466.5 603.8,465.5 603.8,464.5 603.7,463.5 603.7,462.5 605.6,461.2 605.6,460.3 605.6,459.5 605.6,458.7 605.6,457.8 605.7,457 605.7,456.2 605.8,455.4 603.8,453.5 603.9,452.5 604,451.5 604.1,450.5 604.3,449.6 604.4,448.6 604.6,447.7 604.7,446.8 606.7,448.3 606.8,447.6 607,446.9 607.2,446.2 607.4,445.5 607.6,444.9 607.8,444.2 608,443.6 606.7,439.4 607,438.6 607.3,437.9 607.6,437.3 607.9,436.6 608.2,436 608.5,435.5 608.9,434.9 609.2,434.4 609.5,433.9 609.9,433.4 610.2,433 610.6,432.6 611,432.2 611.3,431.9 611.7,431.6 612.1,431.4 612.5,431.1 612.9,430.9 613.2,430.8 613.6,430.7 614,430.6 614.4,430.5 614.8,430.5 615.2,430.5 615.6,430.6 616,430.7 616.4,430.8 616.7,430.9 617.1,431.1 617.5,431.4 617.9,431.6 618.3,431.9 618.6,432.2 619,432.6 619.4,433 619.7,433.4 620.1,433.9 620.4,434.4 620.7,434.9 621.1,435.5 621.4,436 621.7,436.6 622,437.3 622.3,437.9 622.6,438.6 622.9,439.4 623.1,440.1 623.4,440.9 623.6,441.6 623.9,442.5 624.1,443.3 624.3,444.1 624.5,445 624.7,445.9 624.9,446.8 625,447.7 625.2,448.6 625.3,449.6 625.5,450.5 625.6,451.5 625.7,452.5 625.8,453.5 625.8,454.5 625.9,455.5 625.9,456.5 624,457.8 624,458.7" fill="#fff" stroke="#111" stroke-width="1.5" stroke-linejoin="round" />
<ellipse cx="614.8" cy="459.5" rx="4.8" ry="12" fill="none" stroke="#111" stroke-width="1.5" />
<ellipse cx="610.8" cy="439" rx="1" ry="1.7" fill="#111" stroke="#111" stroke-width="0.9" />
<ellipse cx="618.3" cy="441.5" rx="1" ry="1.7" fill="#111" stroke="#111" stroke-width="0.9" />
<ellipse cx="622.3" cy="451" rx="1" ry="1.7" fill="#111" stroke="#111" stroke-width="0.9" />
<ellipse cx="607.3" cy="467.5" rx="1" ry="1.7" fill="#111" stroke="#111" stroke-width="0.9" />
<ellipse cx="611.3" cy="477" rx="1" ry="1.7" fill="#111" stroke="#111" stroke-width="0.9" />
<ellipse cx="618.8" cy="480.5" rx="1" ry="1.7" fill="#111" stroke="#111" stroke-width="0.9" />
<path d="M635,443.3 L643,443 A4.5,12.7 0 0 1 643,468.5 L635,468.7" fill="#fff" stroke="#111" stroke-width="1.4" stroke-linejoin="round" />
<ellipse cx="635" cy="456" rx="4.6" ry="12.7" fill="#fff" stroke="#111" stroke-width="1.8" />
<ellipse cx="635" cy="456" rx="3" ry="9" fill="none" stroke="#111" stroke-width="1.1" />
<ellipse cx="635" cy="456" rx="1.6" ry="5.5" fill="none" stroke="#333" stroke-width="1.6" />
<path d="M663,422 L666,422 A13.75,33.5 0 0 1 666,489 L663,489" fill="#fff" stroke="#111" stroke-width="1.4" stroke-linejoin="round" />
<ellipse cx="663" cy="455.5" rx="13.8" ry="33.5" fill="#fff" stroke="#111" stroke-width="1.5" />
<ellipse cx="666.5" cy="455" rx="6.5" ry="16.5" fill="none" stroke="#111" stroke-width="1.3" />
<ellipse cx="664" cy="455" rx="6.2" ry="16.2" fill="#fff" stroke="#111" stroke-width="1.3" />
<ellipse cx="665" cy="455" rx="3.5" ry="12.5" fill="none" stroke="#111" stroke-width="1.3" />
<line x1="666.5" y1="443" x2="666.5" y2="467" stroke="#111" stroke-width="1.6" />
<ellipse cx="672.4" cy="464.1" rx="1.1" ry="2" fill="none" stroke="#111" stroke-width="1" />
<ellipse cx="667.2" cy="478.2" rx="1.1" ry="2" fill="none" stroke="#111" stroke-width="1" />
<ellipse cx="659.6" cy="479" rx="1.1" ry="2" fill="none" stroke="#111" stroke-width="1" />
<ellipse cx="653.9" cy="466.1" rx="1.1" ry="2" fill="none" stroke="#111" stroke-width="1" />
<ellipse cx="653.6" cy="446.9" rx="1.1" ry="2" fill="none" stroke="#111" stroke-width="1" />
<ellipse cx="658.8" cy="432.8" rx="1.1" ry="2" fill="none" stroke="#111" stroke-width="1" />
<ellipse cx="666.4" cy="432" rx="1.1" ry="2" fill="none" stroke="#111" stroke-width="1" />
<ellipse cx="672.1" cy="444.9" rx="1.1" ry="2" fill="none" stroke="#111" stroke-width="1" />
<polygon points="689.4,468.7 682.2,476.5 683.3,479.3 722.7,497.6 736.5,495.9 736.5,490.9 729.3,477.6 727.1,477.6 722,484" fill="#fff" stroke="#111" stroke-width="1.4" stroke-linejoin="round" />
<polygon points="723.8,489 736.5,486 736.5,495.9 723.8,498.7" fill="#fff" stroke="#111" stroke-width="1.1" stroke-linejoin="round" />
<line x1="727" y1="480" x2="731" y2="488" stroke="#111" stroke-width="1" />
<line x1="725" y1="486" x2="734" y2="484" stroke="#111" stroke-width="1.7" />
<path d="M697.2,415.5 L734.9,410.5 Q748.2,420 752.6,453.2 Q752,476 737,482.6 L712,486 Z" fill="#fff" stroke="#111" stroke-width="1.4" stroke-linejoin="round" />
<ellipse cx="700.5" cy="450.4" rx="16.4" ry="34.4" fill="#fff" stroke="#111" stroke-width="1.5" />
<ellipse cx="703.3" cy="452" rx="11.9" ry="30.2" fill="#fff" stroke="#111" stroke-width="1.4" />
<path d="M703,419 Q718,440 715,485" fill="none" stroke="#111" stroke-width="0.9" stroke-linejoin="round" />
<path d="M686.6,411 L693,409 Q697,411 697,418 L690.5,421" fill="#fff" stroke="#111" stroke-width="1.3" stroke-linejoin="round" />
<ellipse cx="686.6" cy="416" rx="3.5" ry="5" fill="#fff" stroke="#111" stroke-width="1.4" />
<ellipse cx="686.6" cy="416" rx="1.6" ry="2.6" fill="none" stroke="#111" stroke-width="1" />
<rect x="697" y="425" width="10" height="9" rx="2" fill="#fff" stroke="#111" stroke-width="1.1"/>
<line x1="700" y1="426" x2="700" y2="433" stroke="#111" stroke-width="1.6" />
<line x1="704" y1="426" x2="704" y2="433" stroke="#111" stroke-width="1.6" />
<path d="M712.7,422.3 L720,421.8 A5.5,6 0 0 1 720,433.6 L712.7,434.3" fill="#fff" stroke="#111" stroke-width="1.3" stroke-linejoin="round" />
<ellipse cx="712.7" cy="428.3" rx="3.3" ry="6" fill="#fff" stroke="#111" stroke-width="1.4" />
<ellipse cx="675.8" cy="419.5" rx="3" ry="3.3" fill="#fff" stroke="#111" stroke-width="1.6" />
<ellipse cx="675.8" cy="419.5" rx="1.2" ry="1.4" fill="none" stroke="#111" stroke-width="1" />
<polygon points="710,403 723,400.5 724,407 711,410" fill="#2a2a2a" stroke="#111" stroke-width="1.1" stroke-linejoin="round" />
<line x1="713" y1="402.5" x2="713.5" y2="409.5" stroke="#eee" stroke-width="0.9" />
<line x1="716" y1="401.9" x2="716.5" y2="408.9" stroke="#eee" stroke-width="0.9" />
<line x1="719" y1="401.3" x2="719.5" y2="408.3" stroke="#eee" stroke-width="0.9" />
<line x1="722" y1="400.7" x2="722.5" y2="407.7" stroke="#eee" stroke-width="0.9" />
<ellipse cx="725.5" cy="404.3" rx="2.6" ry="5" fill="#fff" stroke="#111" stroke-width="1.7" transform="rotate(-12 725.5 404.3)" />
<polygon points="731,418.5 746,416 747,423 732,426" fill="#2a2a2a" stroke="#111" stroke-width="1.1" stroke-linejoin="round" />
<line x1="733.5" y1="418" x2="734" y2="425.5" stroke="#eee" stroke-width="0.9" />
<line x1="736.3" y1="417.5" x2="736.8" y2="425" stroke="#eee" stroke-width="0.9" />
<line x1="739.1" y1="417" x2="739.6" y2="424.5" stroke="#eee" stroke-width="0.9" />
<line x1="741.9" y1="416.5" x2="742.4" y2="424" stroke="#eee" stroke-width="0.9" />
<line x1="744.7" y1="416" x2="745.2" y2="423.5" stroke="#eee" stroke-width="0.9" />
<ellipse cx="748.5" cy="420.3" rx="2.8" ry="5.5" fill="#fff" stroke="#111" stroke-width="1.8" transform="rotate(-12 748.5 420.3)" />
<path d="M680.5,498 A5,5 0 0 1 690.5,498 Z" fill="#fff" stroke="#111" stroke-width="1.3" stroke-linejoin="round" />
<rect x="682" y="498" width="7" height="5" fill="#fff" stroke="#111" stroke-width="1"/>
<ellipse cx="685.5" cy="505.5" rx="7.5" ry="3" fill="#fff" stroke="#111" stroke-width="1.5" />
<ellipse cx="685.5" cy="504.5" rx="5.5" ry="1.6" fill="none" stroke="#222" stroke-width="1.7" />
<path d="M680.5,508 L680.5,511 A5,2 0 0 0 690.5,511 L690.5,508" fill="#fff" stroke="#111" stroke-width="1.3" stroke-linejoin="round" />
<line x1="681" y1="509.3" x2="690" y2="509.3" stroke="#333" stroke-width="1.4" />
<path d="M719.3,511.5 A5,5 0 0 1 729.3,511.5 Z" fill="#fff" stroke="#111" stroke-width="1.3" stroke-linejoin="round" />
<rect x="720.8" y="511.5" width="7" height="5" fill="#fff" stroke="#111" stroke-width="1"/>
<ellipse cx="724.3" cy="519" rx="7.5" ry="3" fill="#fff" stroke="#111" stroke-width="1.5" />
<ellipse cx="724.3" cy="518" rx="5.5" ry="1.6" fill="none" stroke="#222" stroke-width="1.7" />
<path d="M719.3,521.5 L719.3,524.5 A5,2 0 0 0 729.3,524.5 L729.3,521.5" fill="#fff" stroke="#111" stroke-width="1.3" stroke-linejoin="round" />
<line x1="719.8" y1="522.8" x2="728.8" y2="522.8" stroke="#333" stroke-width="1.4" />
<path d="M768.3,451.6 L772,451 A6,10 0 0 1 772,471 L768.3,471.6" fill="#fff" stroke="#111" stroke-width="1.5" stroke-linejoin="round" />
<ellipse cx="768.3" cy="461.6" rx="7.5" ry="10" fill="#fff" stroke="#111" stroke-width="1.6" />
<ellipse cx="768" cy="461.6" rx="2.5" ry="5" fill="none" stroke="#111" stroke-width="1.3" />
<line x1="766" y1="461.6" x2="770" y2="461.6" stroke="#111" stroke-width="0.9" />
<path d="M773,452.5 Q777,462 773,471" fill="none" stroke="#333" stroke-width="1.7" stroke-linejoin="round" />
<polygon points="829.3,415.7 828.5,415.8 828.1,411.8 828.9,411.8" fill="#fff" stroke="#111" stroke-width="1.3" stroke-linejoin="round" />
<polygon points="793.5,419.8 829.3,416 828.9,411.5 793.1,415.2" fill="#151515" stroke="#111" stroke-width="1.1" stroke-linejoin="round" />
<line x1="795.9" y1="418.3" x2="795.7" y2="416.2" stroke="#bbb" stroke-width="0.8" />
<line x1="799" y1="417.9" x2="798.8" y2="415.9" stroke="#bbb" stroke-width="0.8" />
<line x1="802.1" y1="417.6" x2="801.8" y2="415.6" stroke="#bbb" stroke-width="0.8" />
<line x1="805.1" y1="417.3" x2="804.9" y2="415.2" stroke="#bbb" stroke-width="0.8" />
<line x1="808.2" y1="417" x2="808" y2="414.9" stroke="#bbb" stroke-width="0.8" />
<line x1="811.3" y1="416.6" x2="811.1" y2="414.6" stroke="#bbb" stroke-width="0.8" />
<line x1="814.4" y1="416.3" x2="814.2" y2="414.3" stroke="#bbb" stroke-width="0.8" />
<line x1="817.5" y1="416" x2="817.3" y2="413.9" stroke="#bbb" stroke-width="0.8" />
<line x1="820.6" y1="415.7" x2="820.3" y2="413.6" stroke="#bbb" stroke-width="0.8" />
<line x1="823.6" y1="415.4" x2="823.4" y2="413.3" stroke="#bbb" stroke-width="0.8" />
<line x1="826.7" y1="415" x2="826.5" y2="413" stroke="#bbb" stroke-width="0.8" />
<g transform="translate(828.3,413.8) rotate(-6)"><path d="M0,-4.2 Q6,-4.2 6,0 Q6,4.2 0,4.2 Z" fill="#111" stroke="#111" stroke-width="0.8"/><ellipse cx="2.8" cy="-2" rx="0.9" ry="1.1" fill="#fff"/><ellipse cx="2.8" cy="2.2" rx="0.9" ry="1.1" fill="#fff"/></g>
<polygon points="826,454.1 826,454.1 825.6,450.1 825.6,450.1" fill="#fff" stroke="#111" stroke-width="1.3" stroke-linejoin="round" />
<polygon points="790.2,457.8 826.1,454.4 825.6,449.8 789.8,453.2" fill="#151515" stroke="#111" stroke-width="1.1" stroke-linejoin="round" />
<line x1="792.6" y1="456.3" x2="792.4" y2="454.2" stroke="#bbb" stroke-width="0.8" />
<line x1="795.7" y1="456" x2="795.5" y2="453.9" stroke="#bbb" stroke-width="0.8" />
<line x1="798.8" y1="455.7" x2="798.6" y2="453.6" stroke="#bbb" stroke-width="0.8" />
<line x1="801.8" y1="455.4" x2="801.6" y2="453.3" stroke="#bbb" stroke-width="0.8" />
<line x1="804.9" y1="455.1" x2="804.7" y2="453.1" stroke="#bbb" stroke-width="0.8" />
<line x1="808" y1="454.8" x2="807.8" y2="452.8" stroke="#bbb" stroke-width="0.8" />
<line x1="811.1" y1="454.5" x2="810.9" y2="452.5" stroke="#bbb" stroke-width="0.8" />
<line x1="814.2" y1="454.2" x2="814" y2="452.2" stroke="#bbb" stroke-width="0.8" />
<line x1="817.3" y1="453.9" x2="817.1" y2="451.9" stroke="#bbb" stroke-width="0.8" />
<line x1="820.4" y1="453.6" x2="820.2" y2="451.6" stroke="#bbb" stroke-width="0.8" />
<line x1="823.4" y1="453.3" x2="823.2" y2="451.3" stroke="#bbb" stroke-width="0.8" />
<g transform="translate(825.8,452.1) rotate(-5.5)"><path d="M0,-4.2 Q6,-4.2 6,0 Q6,4.2 0,4.2 Z" fill="#111" stroke="#111" stroke-width="0.8"/><ellipse cx="2.8" cy="-2" rx="0.9" ry="1.1" fill="#fff"/><ellipse cx="2.8" cy="2.2" rx="0.9" ry="1.1" fill="#fff"/></g>
<polygon points="751,423.3 756,422.5 756,429.5 751,430.3" fill="#fff" stroke="#111" stroke-width="1.4" stroke-linejoin="round" />
<ellipse cx="751.2" cy="426.8" rx="1.4" ry="3.5" fill="#fff" stroke="#111" stroke-width="1.4" />
<polygon points="755,426.3 762.3,425.2 762.3,430.7 755,431.6" fill="#fff" stroke="#111" stroke-width="1.4" stroke-linejoin="round" />
<polygon points="756.3,416.7 767.7,422 767.7,436.7 756.3,431.3" fill="#fff" stroke="#111" stroke-width="1.5" stroke-linejoin="round" />
<polygon points="767.7,422 785,419.5 785,434.7 767.7,436.7" fill="#fff" stroke="#111" stroke-width="1.5" stroke-linejoin="round" />
<polygon points="756.3,416.7 770,412.5 774.5,412 785,416 785,419.5 767.7,422" fill="#fff" stroke="#111" stroke-width="1.4" stroke-linejoin="round" />
<polyline points="770,412.5 782,414.5 785,416" fill="none" stroke="#111" stroke-width="1.8" stroke-linejoin="round" />
<rect x="761.2" y="420" width="2.6" height="14" fill="#111"/>
<rect x="764.8" y="421.5" width="2" height="13" fill="#111"/>
<polygon points="773.7,425.3 782.3,424.3 782.3,431.3 773.7,432.3" fill="#fff" stroke="#111" stroke-width="1.3" stroke-linejoin="round" />
<line x1="771" y1="423" x2="771" y2="436" stroke="#111" stroke-width="1.6" />
<polygon points="784.3,416.5 787.2,417 787.2,435.3 784.3,435.8" fill="#fff" stroke="#111" stroke-width="1.4" stroke-linejoin="round" />
<polyline points="241,137 257,655" fill="none" stroke="#a83040" stroke-width="0.8" stroke-dasharray="13 2 4 2"/>
<polyline points="33.4,681.2 814.6,611.5 810,541 512,552.3 510,466.4 777.7,444.5" fill="none" stroke="#a83040" stroke-width="0.8" stroke-dasharray="13 2 4 2"/>
<polyline points="140.7,508 211.4,510.3 218,656.6 258,653.5" fill="none" stroke="#a83040" stroke-width="0.8" stroke-dasharray="13 2 4 2"/>
<polyline points="141.6,520 143.5,664" fill="none" stroke="#a83040" stroke-width="0.8" stroke-dasharray="13 2 4 2"/>
<polyline points="146.8,661.7 200,657" fill="none" stroke="#a83040" stroke-width="0.8" stroke-dasharray="13 2 4 2"/>
<polyline points="276,337 424.7,316.4 429.6,327.5 299.5,348.9 305.5,372.8 435.6,352.9 442.6,369.8 314.9,395.4 319.9,415.7 478.5,391 483,415.4 356.5,436.5 360,457.6 465.2,442" fill="none" stroke="#a83040" stroke-width="0.8" stroke-dasharray="13 2 4 2"/>
<polyline points="576.5,282 680.7,245.5" fill="none" stroke="#a83040" stroke-width="0.8" stroke-dasharray="13 2 4 2"/>
<polyline points="333,175.3 273,175.3" fill="none" stroke="#111" stroke-width="1.4" stroke-linejoin="round" />
<polygon points="273,175.3 280.5,173.4 280.5,177.2" fill="#111"/>
<polyline points="325,232.5 271,232.5" fill="none" stroke="#111" stroke-width="1.4" stroke-linejoin="round" />
<polygon points="271,232.5 278.5,230.6 278.5,234.4" fill="#111"/>
<polyline points="318,292.5 273,292.5" fill="none" stroke="#111" stroke-width="1.4" stroke-linejoin="round" />
<polygon points="273,292.5 280.5,290.6 280.5,294.4" fill="#111"/>
<text x="293" y="288" font-size="14.5" text-anchor="start" stroke="#111" stroke-width="0.4" >B12</text>
<polyline points="187,353 215,353" fill="none" stroke="#111" stroke-width="1.4" stroke-linejoin="round" />
<polygon points="215,353 207.5,354.9 207.5,351.1" fill="#111"/>
<polyline points="293,379 256,379" fill="none" stroke="#111" stroke-width="1.4" stroke-linejoin="round" />
<polygon points="256,379 263.5,377.1 263.5,380.9" fill="#111"/>
<polyline points="212,393 241,393" fill="none" stroke="#111" stroke-width="1.4" stroke-linejoin="round" />
<polygon points="241,393 233.5,394.9 233.5,391.1" fill="#111"/>
<text x="212.5" y="388" font-size="14.5" text-anchor="start" stroke="#111" stroke-width="0.4" >B11</text>
<polyline points="298,407.5 256,407.5" fill="none" stroke="#111" stroke-width="1.4" stroke-linejoin="round" />
<polygon points="256,407.5 263.5,405.6 263.5,409.4" fill="#111"/>
<polyline points="322,439.6 282,439.6" fill="none" stroke="#111" stroke-width="1.4" stroke-linejoin="round" />
<polygon points="282,439.6 289.5,437.7 289.5,441.5" fill="#111"/>
<polyline points="336.7,478.6 285,478.6" fill="none" stroke="#111" stroke-width="1.4" stroke-linejoin="round" />
<polygon points="285,478.6 292.5,476.7 292.5,480.5" fill="#111"/>
<polyline points="372,517 275,517" fill="none" stroke="#111" stroke-width="1.4" stroke-linejoin="round" />
<polygon points="275,517 282.5,515.1 282.5,518.9" fill="#111"/>
<text x="310.6" y="512" font-size="15" text-anchor="start" stroke="#111" stroke-width="0.4" textLength="61" lengthAdjust="spacingAndGlyphs">⌀35X⌀2.2</text>
<polyline points="320,549.6 275,549.6" fill="none" stroke="#111" stroke-width="1.4" stroke-linejoin="round" />
<polygon points="275,549.6 282.5,547.7 282.5,551.5" fill="#111"/>
<polyline points="313,580 287.5,580 273,601.6" fill="none" stroke="#111" stroke-width="1.4" stroke-linejoin="round" />
<polygon points="273,601.6 275.6,594.3 278.8,596.4" fill="#111"/>
<polyline points="337.5,608 305.8,608 303,645" fill="none" stroke="#111" stroke-width="1.4" stroke-linejoin="round" />
<polygon points="303,645 301.7,637.4 305.5,637.7" fill="#111"/>
<polyline points="190.8,535 153,535" fill="none" stroke="#111" stroke-width="1.4" stroke-linejoin="round" />
<polygon points="153,535 160.5,533.1 160.5,536.9" fill="#111"/>
<polyline points="78,557.5 123,557.5" fill="none" stroke="#111" stroke-width="1.4" stroke-linejoin="round" />
<polygon points="123,557.5 115.5,559.4 115.5,555.6" fill="#111"/>
<polyline points="75.8,585.8 120,585.8" fill="none" stroke="#111" stroke-width="1.4" stroke-linejoin="round" />
<polygon points="120,585.8 112.5,587.7 112.5,583.9" fill="#111"/>
<polyline points="108,516.6 135,516.6" fill="none" stroke="#111" stroke-width="1.4" stroke-linejoin="round" />
<polygon points="135,516.6 127.5,518.5 127.5,514.7" fill="#111"/>
<text x="109" y="512" font-size="14.5" text-anchor="start" stroke="#111" stroke-width="0.4" >B10</text>
<polyline points="65.8,625.3 92.5,625.3 99,645.8" fill="none" stroke="#111" stroke-width="1.4" stroke-linejoin="round" />
<polygon points="99,645.8 94.9,639.2 98.5,638.1" fill="#111"/>
<polyline points="210,625.8 171.6,625.8 168.3,647.5" fill="none" stroke="#111" stroke-width="1.4" stroke-linejoin="round" />
<polygon points="168.3,647.5 167.5,639.8 171.3,640.4" fill="#111"/>
<polyline points="24,629.6 42.4,629.6 48,648" fill="none" stroke="#111" stroke-width="1.4" stroke-linejoin="round" />
<polygon points="48,648 44,641.4 47.6,640.3" fill="#111"/>
<text x="25.8" y="626" font-size="14.5" text-anchor="start" stroke="#111" stroke-width="0.4" >B1</text>
<polyline points="21.7,716.6 45,716.6 45,694" fill="none" stroke="#111" stroke-width="1.4" stroke-linejoin="round" />
<polygon points="45,694 46.9,701.5 43.1,701.5" fill="#111"/>
<polyline points="180.8,710 149.6,710 149.6,680" fill="none" stroke="#111" stroke-width="1.4" stroke-linejoin="round" />
<polygon points="149.6,680 151.5,687.5 147.7,687.5" fill="#111"/>
<polyline points="235,719 211,719 205,690" fill="none" stroke="#111" stroke-width="1.4" stroke-linejoin="round" />
<polygon points="205,690 208.4,697 204.7,697.7" fill="#111"/>
<polyline points="220,746.6 198,746.6 198,720" fill="none" stroke="#111" stroke-width="1.4" stroke-linejoin="round" />
<polygon points="198,720 199.9,727.5 196.1,727.5" fill="#111"/>
<text x="204" y="743" font-size="14.5" text-anchor="start" stroke="#111" stroke-width="0.4" >B2</text>
<polyline points="295,722.5 268,722.5 263,696.6" fill="none" stroke="#111" stroke-width="1.4" stroke-linejoin="round" />
<polygon points="263,696.6 266.3,703.6 262.6,704.3" fill="#111"/>
<polyline points="424.2,714 389.8,714 384.3,686.4" fill="none" stroke="#111" stroke-width="1.4" stroke-linejoin="round" />
<polygon points="384.3,686.4 387.6,693.4 383.9,694.1" fill="#111"/>
<polyline points="536.5,705 502.8,705 495.7,664" fill="none" stroke="#111" stroke-width="1.4" stroke-linejoin="round" />
<polygon points="495.7,664 498.9,671.1 495.1,671.7" fill="#111"/>
<polyline points="586,598.5 559.6,598.5 559,630" fill="none" stroke="#111" stroke-width="1.4" stroke-linejoin="round" />
<polygon points="559,630 557.2,622.5 561,622.5" fill="#111"/>
<polyline points="456.7,757 424.8,757 416,729.8" fill="none" stroke="#111" stroke-width="1.4" stroke-linejoin="round" />
<polygon points="416,729.8 420.1,736.4 416.5,737.5" fill="#111"/>
<text x="433.7" y="751" font-size="14.5" text-anchor="start" stroke="#111" stroke-width="0.4" >B3</text>
<polyline points="629.7,673 603,673 597,645" fill="none" stroke="#111" stroke-width="1.4" stroke-linejoin="round" />
<polygon points="597,645 600.4,651.9 596.7,652.7" fill="#111"/>
<text x="607.7" y="668.4" font-size="14.5" text-anchor="start" stroke="#111" stroke-width="0.4" >B4</text>
<polyline points="761,688.3 718.3,688.3 700.6,644.6" fill="none" stroke="#111" stroke-width="1.4" stroke-linejoin="round" />
<polygon points="700.6,644.6 705.2,650.8 701.7,652.3" fill="#111"/>
<polyline points="165.1,764.8 141.2,764.8 130.5,746" fill="none" stroke="#111" stroke-width="1.4" stroke-linejoin="round" />
<polygon points="130.5,746 135.9,751.6 132.6,753.5" fill="#111"/>
<polyline points="399.6,288.9 369.7,288.9 363,317.3" fill="none" stroke="#111" stroke-width="1.4" stroke-linejoin="round" />
<polygon points="363,317.3 362.9,309.6 366.6,310.4" fill="#111"/>
<polyline points="466.8,334.6 435.5,334.6 413,350.1" fill="none" stroke="#111" stroke-width="1.4" stroke-linejoin="round" />
<polygon points="413,350.1 418.1,344.3 420.3,347.4" fill="#111"/>
<polyline points="529.6,367.5 471.3,367.5 460.9,381.5" fill="none" stroke="#111" stroke-width="1.4" stroke-linejoin="round" />
<polygon points="460.9,381.5 463.8,374.3 466.9,376.6" fill="#111"/>
<text x="496.5" y="358.2" font-size="9" textLength="25" lengthAdjust="spacingAndGlyphs" style="font-family:&quot;Liberation Sans&quot;,sans-serif;font-weight:bold">97mm</text>
<polyline points="438.4,495.7 398,495.7" fill="none" stroke="#111" stroke-width="1.4" stroke-linejoin="round" />
<polygon points="398,495.7 405.5,493.8 405.5,497.6" fill="#111"/>
<polyline points="499.7,474.8 466.8,474.8 447.4,453.3" fill="none" stroke="#111" stroke-width="1.4" stroke-linejoin="round" />
<polygon points="447.4,453.3 453.8,457.6 451,460.1" fill="#111"/>
<polyline points="544,371.6 572.5,371.6 574,395.8" fill="none" stroke="#111" stroke-width="1.4" stroke-linejoin="round" />
<polygon points="574,395.8 571.6,388.4 575.4,388.2" fill="#111"/>
<polyline points="514,405.8 565,405.8" fill="none" stroke="#111" stroke-width="1.4" stroke-linejoin="round" />
<polygon points="565,405.8 557.5,407.7 557.5,403.9" fill="#111"/>
<text x="525" y="400.8" font-size="14.5" text-anchor="start" stroke="#111" stroke-width="0.4" >B5</text>
<polyline points="531,441 550,441 573,449" fill="none" stroke="#111" stroke-width="1.4" stroke-linejoin="round" />
<polygon points="573,449 565.3,448.3 566.5,444.7" fill="#111"/>
<polyline points="540,487.5 570,487.5" fill="none" stroke="#111" stroke-width="1.4" stroke-linejoin="round" />
<polygon points="570,487.5 562.5,489.4 562.5,485.6" fill="#111"/>
<text x="542.5" y="485" font-size="14.5" text-anchor="start" stroke="#111" stroke-width="0.4" >B6</text>
<polyline points="681.6,529.5 639.7,529.5 619.7,487.6" fill="none" stroke="#111" stroke-width="1.4" stroke-linejoin="round" />
<polygon points="619.7,487.6 624.6,493.6 621.2,495.2" fill="#111"/>
<polyline points="607.5,388 639,388 655,423" fill="none" stroke="#111" stroke-width="1.4" stroke-linejoin="round" />
<polygon points="655,423 650.2,417 653.6,415.4" fill="#111"/>
<polyline points="610.8,414.6 628.3,414.6 635.8,445" fill="none" stroke="#111" stroke-width="1.4" stroke-linejoin="round" />
<polygon points="635.8,445 632.2,438.2 635.8,437.3" fill="#111"/>
<polyline points="690,394.6 677.5,394.6 677,415" fill="none" stroke="#111" stroke-width="1.4" stroke-linejoin="round" />
<polygon points="677,415 675.3,407.5 679.1,407.5" fill="#111"/>
<text x="676.6" y="391.6" font-size="14.5" text-anchor="start" stroke="#111" stroke-width="0.4" >B7</text>
<polyline points="734,381.3 719.5,381.3 719.5,401.6" fill="none" stroke="#111" stroke-width="1.4" stroke-linejoin="round" />
<polygon points="719.5,401.6 717.6,394.1 721.4,394.1" fill="#111"/>
<text x="720" y="379" font-size="14.5" text-anchor="start" stroke="#111" stroke-width="0.4" >B8</text>
<polyline points="763.3,388.6 740,388.6 734,415" fill="none" stroke="#111" stroke-width="1.4" stroke-linejoin="round" />
<polygon points="734,415 733.8,407.3 737.5,408.1" fill="#111"/>
<polyline points="818.5,502.7 782,502.7 773,471" fill="none" stroke="#111" stroke-width="1.4" stroke-linejoin="round" />
<polygon points="773,471 776.9,477.7 773.2,478.7" fill="#111"/>
<polyline points="836.6,390 813.3,390 804,410.8" fill="none" stroke="#111" stroke-width="1.4" stroke-linejoin="round" />
<polygon points="804,410.8 805.3,403.2 808.8,404.7" fill="#111"/>
<text x="817.5" y="386.6" font-size="14.5" text-anchor="start" stroke="#111" stroke-width="0.4" >B9</text>
<polyline points="841.6,439.6 812.5,439.6 788.3,430.8" fill="none" stroke="#111" stroke-width="1.4" stroke-linejoin="round" />
<polygon points="788.3,430.8 796,431.6 794.7,435.1" fill="#111"/>
<polyline points="885,346.6 785,346.6" fill="none" stroke="#111" stroke-width="1.4" stroke-linejoin="round" />
<polygon points="785,346.6 792.5,344.7 792.5,348.5" fill="#111"/>
<text x="820.8" y="339" font-size="14.5" text-anchor="start" stroke="#111" stroke-width="0.4" textLength="47" lengthAdjust="spacingAndGlyphs">3mx1mm'</text>
<polyline points="700.7,290.3 669.6,290.3 650.8,272" fill="none" stroke="#111" stroke-width="1.4" stroke-linejoin="round" />
<polygon points="650.8,272 657.5,275.9 654.8,278.6" fill="#111"/>
<circle cx="307" cy="160" r="10.6" fill="#fff" stroke="#111" stroke-width="1.15"/>
<text x="307" y="165.2" font-size="15" text-anchor="middle" textLength="13.6" lengthAdjust="spacingAndGlyphs" stroke="#111" stroke-width="0.75">33</text>
<circle cx="298" cy="219" r="10.6" fill="#fff" stroke="#111" stroke-width="1.15"/>
<text x="298" y="224.2" font-size="15" text-anchor="middle" textLength="13.6" lengthAdjust="spacingAndGlyphs" stroke="#111" stroke-width="0.75">32</text>
<circle cx="198" cy="339" r="10.6" fill="#fff" stroke="#111" stroke-width="1.15"/>
<text x="198" y="344.2" font-size="15" text-anchor="middle" textLength="13.6" lengthAdjust="spacingAndGlyphs" stroke="#111" stroke-width="0.75">31</text>
<circle cx="281.6" cy="367" r="10.6" fill="#fff" stroke="#111" stroke-width="1.15"/>
<text x="281.6" y="372.2" font-size="15" text-anchor="middle" textLength="13.6" lengthAdjust="spacingAndGlyphs" stroke="#111" stroke-width="0.75">30</text>
<circle cx="281" cy="394.7" r="10.6" fill="#fff" stroke="#111" stroke-width="1.15"/>
<text x="281" y="399.9" font-size="15" text-anchor="middle" textLength="13.6" lengthAdjust="spacingAndGlyphs" stroke="#111" stroke-width="0.75">29</text>
<circle cx="307.5" cy="427.5" r="10.6" fill="#fff" stroke="#111" stroke-width="1.15"/>
<text x="307.5" y="432.7" font-size="15" text-anchor="middle" textLength="13.6" lengthAdjust="spacingAndGlyphs" stroke="#111" stroke-width="0.75">28</text>
<circle cx="315" cy="465" r="10.6" fill="#fff" stroke="#111" stroke-width="1.15"/>
<text x="315" y="470.2" font-size="15" text-anchor="middle" textLength="13.6" lengthAdjust="spacingAndGlyphs" stroke="#111" stroke-width="0.75">27</text>
<circle cx="297.5" cy="504" r="10.6" fill="#fff" stroke="#111" stroke-width="1.15"/>
<text x="297.5" y="509.2" font-size="15" text-anchor="middle" textLength="13.6" lengthAdjust="spacingAndGlyphs" stroke="#111" stroke-width="0.75">25</text>
<circle cx="301.6" cy="535.8" r="10.6" fill="#fff" stroke="#111" stroke-width="1.15"/>
<text x="301.6" y="541" font-size="15" text-anchor="middle" textLength="13.6" lengthAdjust="spacingAndGlyphs" stroke="#111" stroke-width="0.75">26</text>
<circle cx="299" cy="566.7" r="10.6" fill="#fff" stroke="#111" stroke-width="1.15"/>
<text x="299" y="571.9" font-size="15" text-anchor="middle" textLength="13.6" lengthAdjust="spacingAndGlyphs" stroke="#111" stroke-width="0.75">25</text>
<circle cx="320" cy="594" r="10.6" fill="#fff" stroke="#111" stroke-width="1.15"/>
<text x="320" y="599.2" font-size="15" text-anchor="middle" textLength="6.8" lengthAdjust="spacingAndGlyphs" stroke="#111" stroke-width="0.75">8</text>
<circle cx="177.5" cy="522.5" r="10.6" fill="#fff" stroke="#111" stroke-width="1.15"/>
<text x="177.5" y="527.7" font-size="15" text-anchor="middle" textLength="13.6" lengthAdjust="spacingAndGlyphs" stroke="#111" stroke-width="0.75">24</text>
<circle cx="95" cy="544" r="10.6" fill="#fff" stroke="#111" stroke-width="1.15"/>
<text x="95" y="549.2" font-size="15" text-anchor="middle" textLength="13.6" lengthAdjust="spacingAndGlyphs" stroke="#111" stroke-width="0.75">23</text>
<circle cx="92" cy="572.5" r="10.6" fill="#fff" stroke="#111" stroke-width="1.15"/>
<text x="92" y="577.7" font-size="15" text-anchor="middle" textLength="13.6" lengthAdjust="spacingAndGlyphs" stroke="#111" stroke-width="0.75">22</text>
<circle cx="80" cy="611.6" r="10.6" fill="#fff" stroke="#111" stroke-width="1.15"/>
<text x="80" y="616.8" font-size="15" text-anchor="middle" textLength="6.8" lengthAdjust="spacingAndGlyphs" stroke="#111" stroke-width="0.75">2</text>
<circle cx="180.8" cy="611.6" r="10.6" fill="#fff" stroke="#111" stroke-width="1.15"/>
<text x="180.8" y="616.8" font-size="15" text-anchor="middle" textLength="6.8" lengthAdjust="spacingAndGlyphs" stroke="#111" stroke-width="0.75">5</text>
<circle cx="30" cy="702.5" r="10.6" fill="#fff" stroke="#111" stroke-width="1.15"/>
<text x="30" y="707.7" font-size="15" text-anchor="middle" textLength="6.8" lengthAdjust="spacingAndGlyphs" stroke="#111" stroke-width="0.75">1</text>
<circle cx="167.5" cy="694" r="10.6" fill="#fff" stroke="#111" stroke-width="1.15"/>
<text x="167.5" y="699.2" font-size="15" text-anchor="middle" textLength="6.8" lengthAdjust="spacingAndGlyphs" stroke="#111" stroke-width="0.75">4</text>
<circle cx="225" cy="705" r="10.6" fill="#fff" stroke="#111" stroke-width="1.15"/>
<text x="225" y="710.2" font-size="15" text-anchor="middle" textLength="6.8" lengthAdjust="spacingAndGlyphs" stroke="#111" stroke-width="0.75">6</text>
<circle cx="283" cy="710" r="10.6" fill="#fff" stroke="#111" stroke-width="1.15"/>
<text x="283" y="715.2" font-size="15" text-anchor="middle" textLength="6.8" lengthAdjust="spacingAndGlyphs" stroke="#111" stroke-width="0.75">7</text>
<circle cx="406.5" cy="700.8" r="10.6" fill="#fff" stroke="#111" stroke-width="1.15"/>
<text x="406.5" y="706" font-size="15" text-anchor="middle" textLength="6.8" lengthAdjust="spacingAndGlyphs" stroke="#111" stroke-width="0.75">9</text>
<circle cx="518.8" cy="690.8" r="10.6" fill="#fff" stroke="#111" stroke-width="1.15"/>
<text x="518.8" y="696" font-size="15" text-anchor="middle" textLength="13.6" lengthAdjust="spacingAndGlyphs" stroke="#111" stroke-width="0.75">10</text>
<circle cx="573.8" cy="585.4" r="10.6" fill="#fff" stroke="#111" stroke-width="1.15"/>
<text x="573.8" y="590.6" font-size="15" text-anchor="middle" textLength="13.6" lengthAdjust="spacingAndGlyphs" stroke="#111" stroke-width="0.75">11</text>
<circle cx="739.6" cy="674.8" r="10.6" fill="#fff" stroke="#111" stroke-width="1.15"/>
<text x="739.6" y="680" font-size="15" text-anchor="middle" textLength="13.6" lengthAdjust="spacingAndGlyphs" stroke="#111" stroke-width="0.75">12</text>
<circle cx="385.2" cy="275.4" r="10.6" fill="#fff" stroke="#111" stroke-width="1.15"/>
<text x="385.2" y="280.6" font-size="15" text-anchor="middle" textLength="13.6" lengthAdjust="spacingAndGlyphs" stroke="#111" stroke-width="0.75">34</text>
<circle cx="450.4" cy="321.2" r="10.6" fill="#fff" stroke="#111" stroke-width="1.15"/>
<text x="450.4" y="326.4" font-size="15" text-anchor="middle" textLength="13.6" lengthAdjust="spacingAndGlyphs" stroke="#111" stroke-width="0.75">35</text>
<circle cx="483.9" cy="354.6" r="10.6" fill="#fff" stroke="#111" stroke-width="1.15"/>
<text x="483.9" y="359.8" font-size="15" text-anchor="middle" textLength="13.6" lengthAdjust="spacingAndGlyphs" stroke="#111" stroke-width="0.75">36</text>
<circle cx="419" cy="481.7" r="10.6" fill="#fff" stroke="#111" stroke-width="1.15"/>
<text x="419" y="486.9" font-size="15" text-anchor="middle" textLength="13.6" lengthAdjust="spacingAndGlyphs" stroke="#111" stroke-width="0.75">37</text>
<circle cx="481.2" cy="462.3" r="10.6" fill="#fff" stroke="#111" stroke-width="1.15"/>
<text x="481.2" y="467.5" font-size="15" text-anchor="middle" textLength="13.6" lengthAdjust="spacingAndGlyphs" stroke="#111" stroke-width="0.75">38</text>
<circle cx="557.4" cy="358.3" r="10.6" fill="#fff" stroke="#111" stroke-width="1.15"/>
<text x="557.4" y="363.5" font-size="15" text-anchor="middle" textLength="13.6" lengthAdjust="spacingAndGlyphs" stroke="#111" stroke-width="0.75">13</text>
<circle cx="542.5" cy="430" r="10.6" fill="#fff" stroke="#111" stroke-width="1.15"/>
<text x="542.5" y="435.2" font-size="15" text-anchor="middle" textLength="13.6" lengthAdjust="spacingAndGlyphs" stroke="#111" stroke-width="0.75">14</text>
<circle cx="660" cy="516.5" r="10.6" fill="#fff" stroke="#111" stroke-width="1.15"/>
<text x="660" y="521.7" font-size="15" text-anchor="middle" textLength="13.6" lengthAdjust="spacingAndGlyphs" stroke="#111" stroke-width="0.75">15</text>
<circle cx="620" cy="372.5" r="10.6" fill="#fff" stroke="#111" stroke-width="1.15"/>
<text x="620" y="377.7" font-size="15" text-anchor="middle" textLength="13.6" lengthAdjust="spacingAndGlyphs" stroke="#111" stroke-width="0.75">16</text>
<circle cx="618.3" cy="401.7" r="10.6" fill="#fff" stroke="#111" stroke-width="1.15"/>
<text x="618.3" y="406.9" font-size="15" text-anchor="middle" textLength="6.8" lengthAdjust="spacingAndGlyphs" stroke="#111" stroke-width="0.75">8</text>
<circle cx="750.3" cy="375.8" r="10.6" fill="#fff" stroke="#111" stroke-width="1.15"/>
<text x="750.3" y="381" font-size="15" text-anchor="middle" textLength="13.6" lengthAdjust="spacingAndGlyphs" stroke="#111" stroke-width="0.75">17</text>
<circle cx="797.5" cy="487.2" r="10.6" fill="#fff" stroke="#111" stroke-width="1.15"/>
<text x="797.5" y="492.4" font-size="15" text-anchor="middle" textLength="13.6" lengthAdjust="spacingAndGlyphs" stroke="#111" stroke-width="0.75">18</text>
<circle cx="830.8" cy="428" r="10.6" fill="#fff" stroke="#111" stroke-width="1.15"/>
<text x="830.8" y="433.2" font-size="15" text-anchor="middle" textLength="13.6" lengthAdjust="spacingAndGlyphs" stroke="#111" stroke-width="0.75">19</text>
<circle cx="807.5" cy="333.6" r="10.6" fill="#fff" stroke="#111" stroke-width="1.15"/>
<text x="807.5" y="338.8" font-size="15" text-anchor="middle" textLength="13.6" lengthAdjust="spacingAndGlyphs" stroke="#111" stroke-width="0.75">20</text>
<circle cx="684" cy="278.3" r="10.6" fill="#fff" stroke="#111" stroke-width="1.15"/>
<text x="684" y="283.5" font-size="15" text-anchor="middle" textLength="13.6" lengthAdjust="spacingAndGlyphs" stroke="#111" stroke-width="0.75">21</text>
<circle cx="154.5" cy="749.2" r="10.6" fill="#fff" stroke="#111" stroke-width="1.15"/>
<text x="154.5" y="754.4" font-size="15" text-anchor="middle" textLength="6.8" lengthAdjust="spacingAndGlyphs" stroke="#111" stroke-width="0.75">3</text>
</svg></body></html>
